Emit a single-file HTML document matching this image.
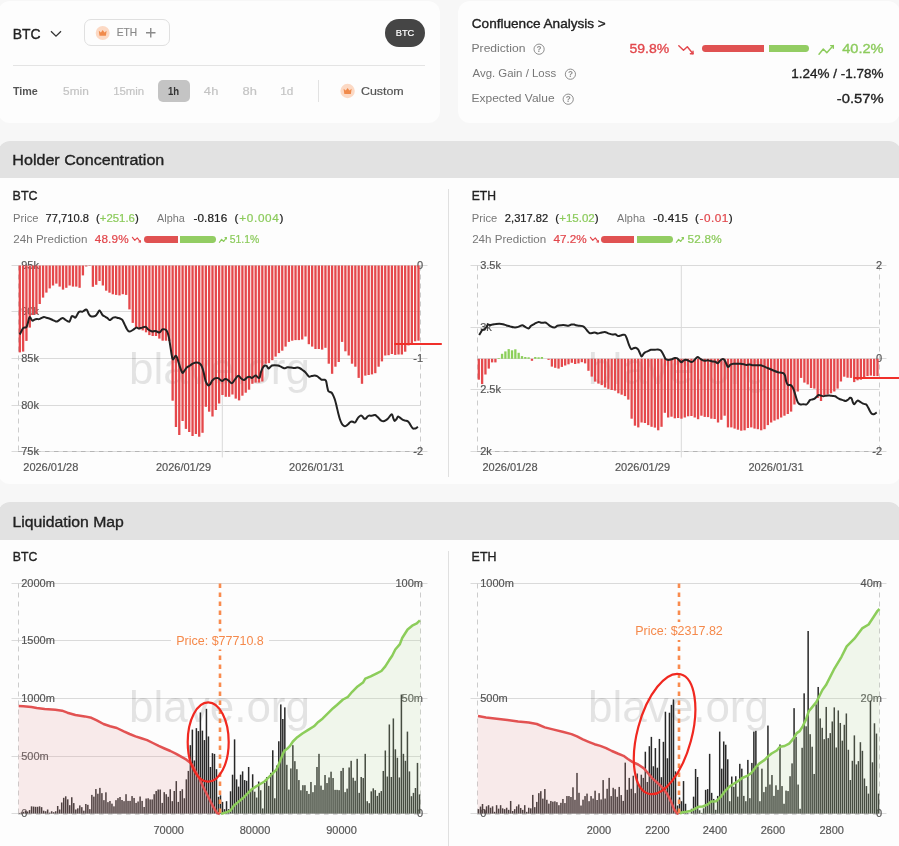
<!DOCTYPE html>
<html><head><meta charset="utf-8"><style>
*{margin:0;padding:0}
html,body{width:899px;height:846px;overflow:hidden;background:#f7f7f7;font-family:"Liberation Sans", sans-serif}
#root{position:absolute;left:0;top:0;width:899px;height:846px;will-change:transform}
</style></head>
<body><div id="root">
<div style="position:absolute;left:-2px;top:1px;width:442px;height:121.7px;background:#fdfdfd;border-radius:12px"></div>
<div style="position:absolute;left:458px;top:1px;width:442px;height:121.7px;background:#fdfdfd;border-radius:12px"></div>
<div style="position:absolute;left:84px;top:19px;width:85.5px;height:26.5px;border:1px solid #e0e0e0;border-radius:7px;box-sizing:border-box"></div>
<div style="position:absolute;left:385px;top:19px;width:40px;height:27.5px;border-radius:14px;background:#454545"></div>
<div style="position:absolute;left:13px;top:64.5px;width:412px;height:1px;background:#e4e4e4"></div>
<div style="position:absolute;left:158px;top:80px;width:32px;height:22px;border-radius:5px;background:#c4c4c4"></div>
<div style="position:absolute;left:318px;top:80px;width:1px;height:22px;background:#e2e2e2"></div>
<div style="position:absolute;left:702px;top:45.2px;width:62px;height:6.8px;background:#e05252;border-radius:3.4px 0 0 3.4px"></div>
<div style="position:absolute;left:768.6px;top:45.2px;width:40.8px;height:6.8px;background:#93cd63;border-radius:0 3.4px 3.4px 0"></div>
<div style="position:absolute;left:-2px;top:141px;width:903px;height:342.7px;background:#fdfdfd;border-radius:12px"></div>
<div style="position:absolute;left:-2px;top:141px;width:903px;height:37px;background:#e2e2e2;border-radius:12px 12px 0 0"></div>
<div style="position:absolute;left:448px;top:189px;width:1px;height:288.2px;background:#e0e0e0"></div>
<div style="position:absolute;left:-2px;top:502px;width:903px;height:360px;background:#fdfdfd;border-radius:12px"></div>
<div style="position:absolute;left:-2px;top:502px;width:903px;height:38px;background:#e2e2e2;border-radius:12px 12px 0 0"></div>
<div style="position:absolute;left:448px;top:551px;width:1px;height:305.5px;background:#e0e0e0"></div>
<div style="position:absolute;left:144.0px;top:236px;width:33.80000000000001px;height:6.8px;background:#e05252;border-radius:3.4px 0 0 3.4px"></div>
<div style="position:absolute;left:179.7px;top:236px;width:36.30000000000001px;height:6.8px;background:#93cd63;border-radius:0 3.4px 3.4px 0"></div>
<div style="position:absolute;left:601.2px;top:236px;width:32.799999999999955px;height:6.8px;background:#e05252;border-radius:3.4px 0 0 3.4px"></div>
<div style="position:absolute;left:636.9px;top:236px;width:36.0px;height:6.8px;background:#93cd63;border-radius:0 3.4px 3.4px 0"></div>
<svg style="position:absolute;left:0;top:0" width="899" height="846" viewBox="0 0 899 846"><line x1="11.5" y1="265.5" x2="427.5" y2="265.5" stroke="#dadada" stroke-width="1"/>
<line x1="11.5" y1="311.5" x2="420.5" y2="311.5" stroke="#dadada" stroke-width="1"/>
<line x1="11.5" y1="358.5" x2="427.5" y2="358.5" stroke="#dadada" stroke-width="1"/>
<line x1="11.5" y1="405.5" x2="420.5" y2="405.5" stroke="#dadada" stroke-width="1"/>
<line x1="11.5" y1="451.5" x2="427.5" y2="451.5" stroke="#dadada" stroke-width="1"/>
<line x1="222.314" y1="265.5" x2="222.314" y2="457.5" stroke="#dadada" stroke-width="1"/>
<line x1="18.5" y1="265.5" x2="18.5" y2="451.5" stroke="#ccc" stroke-width="1" stroke-dasharray="5 4"/>
<line x1="420.5" y1="265.5" x2="420.5" y2="451.5" stroke="#ccc" stroke-width="1" stroke-dasharray="5 4"/>
<line x1="18.0" y1="451.5" x2="420.5" y2="451.5" stroke="#b5b5b5" stroke-width="1" stroke-dasharray="4.5 4.5"/>
<text x="219.5" y="384" font-family="Liberation Sans" font-size="44" fill="#000" fill-opacity="0.1" text-anchor="middle">blave.org</text>
<text x="21.2" y="264.9" font-family="Liberation Sans" font-size="11" fill="#555" stroke="#555" stroke-width="0.18" text-anchor="start" dominant-baseline="central" >95k</text>
<text x="21.2" y="310.9" font-family="Liberation Sans" font-size="11" fill="#555" stroke="#555" stroke-width="0.18" text-anchor="start" dominant-baseline="central" >90k</text>
<text x="21.2" y="357.9" font-family="Liberation Sans" font-size="11" fill="#555" stroke="#555" stroke-width="0.18" text-anchor="start" dominant-baseline="central" >85k</text>
<text x="21.2" y="404.9" font-family="Liberation Sans" font-size="11" fill="#555" stroke="#555" stroke-width="0.18" text-anchor="start" dominant-baseline="central" >80k</text>
<text x="21.2" y="450.9" font-family="Liberation Sans" font-size="11" fill="#555" stroke="#555" stroke-width="0.18" text-anchor="start" dominant-baseline="central" >75k</text>
<text x="423.0" y="264.9" font-family="Liberation Sans" font-size="11" fill="#555" stroke="#555" stroke-width="0.18" text-anchor="end" dominant-baseline="central" >0</text>
<text x="423.0" y="357.9" font-family="Liberation Sans" font-size="11" fill="#555" stroke="#555" stroke-width="0.18" text-anchor="end" dominant-baseline="central" >-1</text>
<text x="423.0" y="450.9" font-family="Liberation Sans" font-size="11" fill="#555" stroke="#555" stroke-width="0.18" text-anchor="end" dominant-baseline="central" >-2</text>
<rect x="18.65" y="265.5" width="2.3" height="86.90" fill="#e5484b"/>
<rect x="21.97" y="265.5" width="2.3" height="86.10" fill="#e5484b"/>
<rect x="25.29" y="265.5" width="2.3" height="75.40" fill="#e5484b"/>
<rect x="28.62" y="265.5" width="2.3" height="62.10" fill="#e5484b"/>
<rect x="31.94" y="265.5" width="2.3" height="49.50" fill="#e5484b"/>
<rect x="35.26" y="265.5" width="2.3" height="48.70" fill="#e5484b"/>
<rect x="38.58" y="265.5" width="2.3" height="38.50" fill="#e5484b"/>
<rect x="41.91" y="265.5" width="2.3" height="32.10" fill="#e5484b"/>
<rect x="45.23" y="265.5" width="2.3" height="27.10" fill="#e5484b"/>
<rect x="48.55" y="265.5" width="2.3" height="22.90" fill="#e5484b"/>
<rect x="51.87" y="265.5" width="2.3" height="20.00" fill="#e5484b"/>
<rect x="55.20" y="265.5" width="2.3" height="18.10" fill="#e5484b"/>
<rect x="58.52" y="265.5" width="2.3" height="21.10" fill="#e5484b"/>
<rect x="61.84" y="265.5" width="2.3" height="24.10" fill="#e5484b"/>
<rect x="65.16" y="265.5" width="2.3" height="22.30" fill="#e5484b"/>
<rect x="68.48" y="265.5" width="2.3" height="20.00" fill="#e5484b"/>
<rect x="71.81" y="265.5" width="2.3" height="21.10" fill="#e5484b"/>
<rect x="75.13" y="265.5" width="2.3" height="21.10" fill="#e5484b"/>
<rect x="78.45" y="265.5" width="2.3" height="22.30" fill="#e5484b"/>
<rect x="81.77" y="265.5" width="2.3" height="9.90" fill="#e5484b"/>
<rect x="85.10" y="265.5" width="2.3" height="1.00" fill="#e5484b"/>
<rect x="88.42" y="265.5" width="2.3" height="0.40" fill="#e5484b"/>
<rect x="91.74" y="265.5" width="2.3" height="21.30" fill="#e5484b"/>
<rect x="95.06" y="265.5" width="2.3" height="19.30" fill="#e5484b"/>
<rect x="98.39" y="265.5" width="2.3" height="15.50" fill="#e5484b"/>
<rect x="101.71" y="265.5" width="2.3" height="20.00" fill="#e5484b"/>
<rect x="105.03" y="265.5" width="2.3" height="25.20" fill="#e5484b"/>
<rect x="108.35" y="265.5" width="2.3" height="27.20" fill="#e5484b"/>
<rect x="111.67" y="265.5" width="2.3" height="28.80" fill="#e5484b"/>
<rect x="115.00" y="265.5" width="2.3" height="29.40" fill="#e5484b"/>
<rect x="118.32" y="265.5" width="2.3" height="29.90" fill="#e5484b"/>
<rect x="121.64" y="265.5" width="2.3" height="28.70" fill="#e5484b"/>
<rect x="124.96" y="265.5" width="2.3" height="29.40" fill="#e5484b"/>
<rect x="128.29" y="265.5" width="2.3" height="43.90" fill="#e5484b"/>
<rect x="131.61" y="265.5" width="2.3" height="57.40" fill="#e5484b"/>
<rect x="134.93" y="265.5" width="2.3" height="62.50" fill="#e5484b"/>
<rect x="138.25" y="265.5" width="2.3" height="63.70" fill="#e5484b"/>
<rect x="141.58" y="265.5" width="2.3" height="64.90" fill="#e5484b"/>
<rect x="144.90" y="265.5" width="2.3" height="66.80" fill="#e5484b"/>
<rect x="148.22" y="265.5" width="2.3" height="69.60" fill="#e5484b"/>
<rect x="151.54" y="265.5" width="2.3" height="70.50" fill="#e5484b"/>
<rect x="154.86" y="265.5" width="2.3" height="70.50" fill="#e5484b"/>
<rect x="158.19" y="265.5" width="2.3" height="73.10" fill="#e5484b"/>
<rect x="161.51" y="265.5" width="2.3" height="75.20" fill="#e5484b"/>
<rect x="164.83" y="265.5" width="2.3" height="75.20" fill="#e5484b"/>
<rect x="168.15" y="265.5" width="2.3" height="75.50" fill="#e5484b"/>
<rect x="171.48" y="265.5" width="2.3" height="135.20" fill="#e5484b"/>
<rect x="174.80" y="265.5" width="2.3" height="161.50" fill="#e5484b"/>
<rect x="178.12" y="265.5" width="2.3" height="169.50" fill="#e5484b"/>
<rect x="181.44" y="265.5" width="2.3" height="155.50" fill="#e5484b"/>
<rect x="184.77" y="265.5" width="2.3" height="163.40" fill="#e5484b"/>
<rect x="188.09" y="265.5" width="2.3" height="166.50" fill="#e5484b"/>
<rect x="191.41" y="265.5" width="2.3" height="170.50" fill="#e5484b"/>
<rect x="194.73" y="265.5" width="2.3" height="168.50" fill="#e5484b"/>
<rect x="198.05" y="265.5" width="2.3" height="171.20" fill="#e5484b"/>
<rect x="201.38" y="265.5" width="2.3" height="167.30" fill="#e5484b"/>
<rect x="204.70" y="265.5" width="2.3" height="141.30" fill="#e5484b"/>
<rect x="208.02" y="265.5" width="2.3" height="146.20" fill="#e5484b"/>
<rect x="211.34" y="265.5" width="2.3" height="151.00" fill="#e5484b"/>
<rect x="214.67" y="265.5" width="2.3" height="144.50" fill="#e5484b"/>
<rect x="217.99" y="265.5" width="2.3" height="138.00" fill="#e5484b"/>
<rect x="221.31" y="265.5" width="2.3" height="129.50" fill="#e5484b"/>
<rect x="224.63" y="265.5" width="2.3" height="131.30" fill="#e5484b"/>
<rect x="227.96" y="265.5" width="2.3" height="131.30" fill="#e5484b"/>
<rect x="231.28" y="265.5" width="2.3" height="129.00" fill="#e5484b"/>
<rect x="234.60" y="265.5" width="2.3" height="133.10" fill="#e5484b"/>
<rect x="237.92" y="265.5" width="2.3" height="134.90" fill="#e5484b"/>
<rect x="241.25" y="265.5" width="2.3" height="130.20" fill="#e5484b"/>
<rect x="244.57" y="265.5" width="2.3" height="127.20" fill="#e5484b"/>
<rect x="247.89" y="265.5" width="2.3" height="124.20" fill="#e5484b"/>
<rect x="251.21" y="265.5" width="2.3" height="118.30" fill="#e5484b"/>
<rect x="254.53" y="265.5" width="2.3" height="117.10" fill="#e5484b"/>
<rect x="257.86" y="265.5" width="2.3" height="117.10" fill="#e5484b"/>
<rect x="261.18" y="265.5" width="2.3" height="116.00" fill="#e5484b"/>
<rect x="264.50" y="265.5" width="2.3" height="98.20" fill="#e5484b"/>
<rect x="267.82" y="265.5" width="2.3" height="97.60" fill="#e5484b"/>
<rect x="271.15" y="265.5" width="2.3" height="94.70" fill="#e5484b"/>
<rect x="274.47" y="265.5" width="2.3" height="91.10" fill="#e5484b"/>
<rect x="277.79" y="265.5" width="2.3" height="87.60" fill="#e5484b"/>
<rect x="281.11" y="265.5" width="2.3" height="85.20" fill="#e5484b"/>
<rect x="284.44" y="265.5" width="2.3" height="81.10" fill="#e5484b"/>
<rect x="287.76" y="265.5" width="2.3" height="76.40" fill="#e5484b"/>
<rect x="291.08" y="265.5" width="2.3" height="75.20" fill="#e5484b"/>
<rect x="294.40" y="265.5" width="2.3" height="74.60" fill="#e5484b"/>
<rect x="297.72" y="265.5" width="2.3" height="74.60" fill="#e5484b"/>
<rect x="301.05" y="265.5" width="2.3" height="74.00" fill="#e5484b"/>
<rect x="304.37" y="265.5" width="2.3" height="71.00" fill="#e5484b"/>
<rect x="307.69" y="265.5" width="2.3" height="78.70" fill="#e5484b"/>
<rect x="311.01" y="265.5" width="2.3" height="81.10" fill="#e5484b"/>
<rect x="314.34" y="265.5" width="2.3" height="83.50" fill="#e5484b"/>
<rect x="317.66" y="265.5" width="2.3" height="83.50" fill="#e5484b"/>
<rect x="320.98" y="265.5" width="2.3" height="84.10" fill="#e5484b"/>
<rect x="324.30" y="265.5" width="2.3" height="82.30" fill="#e5484b"/>
<rect x="327.63" y="265.5" width="2.3" height="98.20" fill="#e5484b"/>
<rect x="330.95" y="265.5" width="2.3" height="108.30" fill="#e5484b"/>
<rect x="334.27" y="265.5" width="2.3" height="101.20" fill="#e5484b"/>
<rect x="337.59" y="265.5" width="2.3" height="96.50" fill="#e5484b"/>
<rect x="340.91" y="265.5" width="2.3" height="76.40" fill="#e5484b"/>
<rect x="344.24" y="265.5" width="2.3" height="85.80" fill="#e5484b"/>
<rect x="347.56" y="265.5" width="2.3" height="90.00" fill="#e5484b"/>
<rect x="350.88" y="265.5" width="2.3" height="98.20" fill="#e5484b"/>
<rect x="354.20" y="265.5" width="2.3" height="101.20" fill="#e5484b"/>
<rect x="357.53" y="265.5" width="2.3" height="112.40" fill="#e5484b"/>
<rect x="360.85" y="265.5" width="2.3" height="118.30" fill="#e5484b"/>
<rect x="364.17" y="265.5" width="2.3" height="110.10" fill="#e5484b"/>
<rect x="367.49" y="265.5" width="2.3" height="109.50" fill="#e5484b"/>
<rect x="370.82" y="265.5" width="2.3" height="108.90" fill="#e5484b"/>
<rect x="374.14" y="265.5" width="2.3" height="107.70" fill="#e5484b"/>
<rect x="377.46" y="265.5" width="2.3" height="101.20" fill="#e5484b"/>
<rect x="380.78" y="265.5" width="2.3" height="95.90" fill="#e5484b"/>
<rect x="384.10" y="265.5" width="2.3" height="90.00" fill="#e5484b"/>
<rect x="387.43" y="265.5" width="2.3" height="89.70" fill="#e5484b"/>
<rect x="390.75" y="265.5" width="2.3" height="88.50" fill="#e5484b"/>
<rect x="394.07" y="265.5" width="2.3" height="89.40" fill="#e5484b"/>
<rect x="397.39" y="265.5" width="2.3" height="89.00" fill="#e5484b"/>
<rect x="400.72" y="265.5" width="2.3" height="89.00" fill="#e5484b"/>
<rect x="404.04" y="265.5" width="2.3" height="86.20" fill="#e5484b"/>
<rect x="407.36" y="265.5" width="2.3" height="79.90" fill="#e5484b"/>
<rect x="410.68" y="265.5" width="2.3" height="78.10" fill="#e5484b"/>
<rect x="414.01" y="265.5" width="2.3" height="75.80" fill="#e5484b"/>
<rect x="417.33" y="265.5" width="2.3" height="75.20" fill="#e5484b"/>
<path d="M19.73 334.47 C20.02 333.88 20.91 332.00 21.50 330.92 C22.09 329.84 22.49 328.60 23.28 327.97 C24.07 327.34 25.54 327.73 26.23 327.14 C26.92 326.55 26.93 325.96 27.42 324.42 C27.91 322.88 28.74 319.10 29.19 317.92 C29.64 316.74 29.75 317.03 30.14 317.33 C30.53 317.62 31.12 319.10 31.55 319.69 C31.98 320.28 32.25 320.87 32.74 320.87 C33.23 320.87 33.82 319.99 34.51 319.69 C35.20 319.39 36.09 319.20 36.88 319.10 C37.67 319.00 38.45 319.30 39.24 319.10 C40.03 318.90 40.82 318.28 41.61 317.92 C42.40 317.56 43.18 317.01 43.97 316.97 C44.76 316.93 45.44 317.42 46.33 317.68 C47.22 317.94 48.20 318.12 49.29 318.51 C50.38 318.90 51.76 319.56 52.84 320.05 C53.92 320.54 55.00 321.27 55.79 321.47 C56.58 321.67 56.78 321.62 57.57 321.23 C58.36 320.84 59.63 319.65 60.52 319.10 C61.41 318.55 62.10 317.82 62.89 317.92 C63.68 318.02 64.46 319.14 65.25 319.69 C66.04 320.24 66.93 320.90 67.62 321.23 C68.31 321.56 68.90 322.06 69.39 321.70 C69.88 321.34 70.19 320.03 70.58 319.10 C70.97 318.18 71.27 316.58 71.76 316.15 C72.25 315.72 72.94 316.25 73.53 316.50 C74.12 316.75 74.72 317.94 75.31 317.68 C75.90 317.42 76.49 315.90 77.08 314.96 C77.67 314.01 78.26 312.60 78.85 312.01 C79.44 311.42 80.04 311.46 80.63 311.42 C81.22 311.38 81.81 311.91 82.40 311.77 C82.99 311.63 83.58 310.98 84.17 310.59 C84.76 310.20 85.46 309.47 85.95 309.41 C86.44 309.35 86.64 309.45 87.13 310.24 C87.62 311.03 88.31 313.15 88.90 314.14 C89.49 315.12 89.99 315.76 90.68 316.15 C91.37 316.54 92.25 316.56 93.04 316.50 C93.83 316.44 94.72 316.24 95.41 315.79 C96.10 315.34 96.55 314.65 97.18 313.78 C97.81 312.91 98.60 310.88 99.19 310.59 C99.78 310.29 100.18 311.28 100.73 312.01 C101.28 312.74 101.81 314.21 102.50 314.96 C103.19 315.71 104.08 316.01 104.87 316.50 C105.66 316.99 106.44 317.33 107.23 317.92 C108.02 318.51 108.91 319.85 109.60 320.05 C110.29 320.25 110.78 319.50 111.37 319.10 C111.96 318.71 112.45 317.98 113.14 317.68 C113.83 317.38 114.72 317.29 115.51 317.33 C116.30 317.37 117.12 317.72 117.87 317.92 C118.62 318.12 119.26 318.18 120.00 318.51 C120.74 318.84 121.52 318.88 122.30 319.90 C123.08 320.91 123.92 323.05 124.70 324.60 C125.48 326.15 126.23 328.03 127.00 329.20 C127.77 330.37 128.33 331.47 129.30 331.60 C130.27 331.73 131.62 330.67 132.80 330.00 C133.98 329.33 135.42 327.85 136.40 327.60 C137.38 327.35 137.73 328.50 138.70 328.50 C139.67 328.50 141.03 327.87 142.20 327.60 C143.37 327.33 144.73 326.63 145.70 326.90 C146.67 327.17 147.28 328.58 148.00 329.20 C148.72 329.82 149.27 330.22 150.00 330.60 C150.73 330.98 151.52 331.45 152.40 331.50 C153.28 331.55 154.22 330.75 155.30 330.90 C156.38 331.05 158.05 332.25 158.90 332.40 C159.75 332.55 159.82 332.30 160.40 331.80 C160.98 331.30 161.67 329.80 162.40 329.40 C163.13 329.00 164.10 329.20 164.80 329.40 C165.50 329.60 166.10 329.95 166.60 330.60 C167.10 331.25 167.42 332.17 167.80 333.30 C168.18 334.43 168.57 335.82 168.90 337.40 C169.23 338.98 169.50 340.92 169.80 342.80 C170.10 344.68 170.40 346.73 170.70 348.70 C171.00 350.67 171.30 352.93 171.60 354.60 C171.90 356.27 172.20 357.92 172.50 358.70 C172.80 359.48 173.05 359.55 173.40 359.30 C173.75 359.05 174.22 357.78 174.60 357.20 C174.98 356.62 175.32 355.80 175.70 355.80 C176.08 355.80 176.45 356.22 176.90 357.20 C177.35 358.18 177.85 359.97 178.40 361.70 C178.95 363.43 179.60 365.83 180.20 367.60 C180.80 369.37 181.52 371.47 182.00 372.30 C182.48 373.13 182.62 372.98 183.10 372.60 C183.58 372.22 184.30 370.83 184.90 370.00 C185.50 369.17 186.10 368.20 186.70 367.60 C187.30 367.00 187.93 366.75 188.50 366.40 C189.07 366.05 189.40 365.97 190.10 365.50 C190.80 365.03 191.62 364.10 192.70 363.60 C193.78 363.10 195.40 362.50 196.60 362.50 C197.80 362.50 199.03 362.95 199.90 363.60 C200.77 364.25 201.15 364.85 201.80 366.40 C202.45 367.95 203.15 370.40 203.80 372.90 C204.45 375.40 204.95 379.33 205.70 381.40 C206.45 383.47 207.53 384.87 208.30 385.30 C209.07 385.73 209.65 384.77 210.30 384.00 C210.95 383.23 211.45 381.63 212.20 380.70 C212.95 379.77 213.82 378.83 214.80 378.40 C215.78 377.97 217.12 377.82 218.10 378.10 C219.08 378.38 219.98 379.63 220.70 380.10 C221.42 380.57 221.63 381.07 222.40 380.90 C223.17 380.73 224.32 379.20 225.30 379.10 C226.28 379.00 227.22 379.62 228.30 380.30 C229.38 380.98 230.72 383.30 231.80 383.20 C232.88 383.10 233.72 380.93 234.80 379.70 C235.88 378.47 237.22 376.00 238.30 375.80 C239.38 375.60 240.32 377.80 241.30 378.50 C242.28 379.20 243.22 380.20 244.20 380.00 C245.18 379.80 246.30 377.85 247.20 377.30 C248.10 376.75 248.82 376.60 249.60 376.70 C250.38 376.80 250.92 378.08 251.90 377.90 C252.88 377.72 254.52 375.70 255.50 375.60 C256.48 375.50 257.12 376.95 257.80 377.30 C258.48 377.65 259.10 378.48 259.60 377.70 C260.10 376.92 260.30 374.23 260.80 372.60 C261.30 370.97 261.92 369.08 262.60 367.90 C263.28 366.72 264.22 365.80 264.90 365.50 C265.58 365.20 266.10 365.60 266.70 366.10 C267.30 366.60 267.90 368.35 268.50 368.50 C269.10 368.65 269.72 367.50 270.30 367.00 C270.88 366.50 271.32 365.80 272.00 365.50 C272.68 365.20 273.42 365.20 274.40 365.20 C275.38 365.20 276.82 365.25 277.90 365.50 C278.98 365.75 280.00 366.30 280.90 366.70 C281.80 367.10 282.62 367.65 283.30 367.90 C283.98 368.15 284.32 368.30 285.00 368.20 C285.68 368.10 286.42 367.42 287.40 367.30 C288.38 367.18 289.72 367.40 290.90 367.50 C292.08 367.60 293.40 367.90 294.50 367.90 C295.60 367.90 296.52 367.40 297.50 367.50 C298.48 367.60 299.52 368.05 300.40 368.50 C301.28 368.95 302.02 369.62 302.80 370.20 C303.58 370.78 304.32 371.20 305.10 372.00 C305.88 372.80 306.80 374.22 307.50 375.00 C308.20 375.78 308.62 376.52 309.30 376.70 C309.98 376.88 310.72 376.28 311.60 376.10 C312.48 375.92 313.70 375.60 314.60 375.60 C315.50 375.60 316.22 375.72 317.00 376.10 C317.78 376.48 318.52 377.30 319.30 377.90 C320.08 378.50 320.82 379.40 321.70 379.70 C322.58 380.00 323.87 379.47 324.60 379.70 C325.33 379.93 325.67 379.93 326.10 381.10 C326.53 382.27 326.83 385.03 327.20 386.70 C327.57 388.37 327.83 390.22 328.30 391.10 C328.77 391.98 329.43 391.72 330.00 392.00 C330.57 392.28 331.15 392.20 331.70 392.80 C332.25 393.40 332.75 394.40 333.30 395.60 C333.85 396.80 334.43 398.15 335.00 400.00 C335.57 401.85 336.15 404.47 336.70 406.70 C337.25 408.93 337.75 411.27 338.30 413.40 C338.85 415.53 339.43 417.83 340.00 419.50 C340.57 421.17 341.13 422.42 341.70 423.40 C342.27 424.38 342.85 424.93 343.40 425.40 C343.95 425.87 344.45 426.20 345.00 426.20 C345.55 426.20 346.13 425.78 346.70 425.40 C347.27 425.02 347.85 424.42 348.40 423.90 C348.95 423.38 349.45 422.72 350.00 422.30 C350.55 421.88 351.13 421.45 351.70 421.40 C352.27 421.35 352.85 421.82 353.40 422.00 C353.95 422.18 354.45 422.83 355.00 422.50 C355.55 422.17 356.13 420.87 356.70 420.00 C357.27 419.13 357.75 418.03 358.40 417.30 C359.05 416.57 359.95 415.78 360.60 415.60 C361.25 415.42 361.75 415.73 362.30 416.20 C362.85 416.67 363.35 417.98 363.90 418.40 C364.45 418.82 365.03 418.98 365.60 418.70 C366.17 418.42 366.75 417.22 367.30 416.70 C367.85 416.18 368.25 415.75 368.90 415.60 C369.55 415.45 370.55 415.83 371.20 415.80 C371.85 415.77 372.15 415.53 372.80 415.40 C373.45 415.27 374.45 414.87 375.10 415.00 C375.75 415.13 376.15 415.73 376.70 416.20 C377.25 416.67 377.83 417.20 378.40 417.80 C378.97 418.40 379.55 419.28 380.10 419.80 C380.65 420.32 381.15 420.67 381.70 420.90 C382.25 421.13 382.75 421.30 383.40 421.20 C384.05 421.10 384.87 420.72 385.60 420.30 C386.33 419.88 387.15 419.30 387.80 418.70 C388.45 418.10 388.93 417.40 389.50 416.70 C390.07 416.00 390.73 414.78 391.20 414.50 C391.67 414.22 391.93 414.35 392.30 415.00 C392.67 415.65 393.03 417.42 393.40 418.40 C393.77 419.38 394.03 420.72 394.50 420.90 C394.97 421.08 395.63 420.20 396.20 419.50 C396.77 418.80 397.35 417.07 397.90 416.70 C398.45 416.33 398.95 416.97 399.50 417.30 C400.05 417.63 400.63 418.28 401.20 418.70 C401.77 419.12 402.25 419.48 402.90 419.80 C403.55 420.12 404.27 420.33 405.10 420.60 C405.93 420.87 407.17 420.93 407.90 421.40 C408.63 421.87 408.95 422.60 409.50 423.40 C410.05 424.20 410.63 425.37 411.20 426.20 C411.77 427.03 412.35 428.00 412.90 428.40 C413.45 428.80 413.95 428.65 414.50 428.60 C415.05 428.55 415.63 428.42 416.20 428.10 C416.77 427.78 417.62 426.93 417.90 426.70" fill="none" stroke="#222" stroke-width="2" stroke-linejoin="round"/>
<text x="50.8" y="466.8" font-family="Liberation Sans" font-size="11" fill="#555" stroke="#555" stroke-width="0.18" text-anchor="middle" dominant-baseline="central" >2026/01/28</text>
<text x="183.5" y="466.8" font-family="Liberation Sans" font-size="11" fill="#555" stroke="#555" stroke-width="0.18" text-anchor="middle" dominant-baseline="central" >2026/01/29</text>
<text x="316.6" y="466.8" font-family="Liberation Sans" font-size="11" fill="#555" stroke="#555" stroke-width="0.18" text-anchor="middle" dominant-baseline="central" >2026/01/31</text>
<line x1="394.3" y1="344" x2="441.8" y2="344" stroke="#f0302a" stroke-width="2"/>
<line x1="470.5" y1="265.5" x2="886.5" y2="265.5" stroke="#dadada" stroke-width="1"/>
<line x1="470.5" y1="327.5" x2="879.5" y2="327.5" stroke="#dadada" stroke-width="1"/>
<line x1="470.5" y1="389.5" x2="879.5" y2="389.5" stroke="#dadada" stroke-width="1"/>
<line x1="470.5" y1="451.5" x2="886.5" y2="451.5" stroke="#dadada" stroke-width="1"/>
<line x1="477.5" y1="358.5" x2="886.5" y2="358.5" stroke="#dadada" stroke-width="1"/>
<line x1="681.314" y1="265.5" x2="681.314" y2="457.5" stroke="#dadada" stroke-width="1"/>
<line x1="477.5" y1="265.5" x2="477.5" y2="451.5" stroke="#ccc" stroke-width="1" stroke-dasharray="5 4"/>
<line x1="879.5" y1="265.5" x2="879.5" y2="451.5" stroke="#ccc" stroke-width="1" stroke-dasharray="5 4"/>
<line x1="477.0" y1="451.5" x2="879.5" y2="451.5" stroke="#b5b5b5" stroke-width="1" stroke-dasharray="4.5 4.5"/>
<text x="678.5" y="384" font-family="Liberation Sans" font-size="44" fill="#000" fill-opacity="0.1" text-anchor="middle">blave.org</text>
<text x="480.2" y="264.9" font-family="Liberation Sans" font-size="11" fill="#555" stroke="#555" stroke-width="0.18" text-anchor="start" dominant-baseline="central" >3.5k</text>
<text x="480.2" y="326.9" font-family="Liberation Sans" font-size="11" fill="#555" stroke="#555" stroke-width="0.18" text-anchor="start" dominant-baseline="central" >3k</text>
<text x="480.2" y="388.9" font-family="Liberation Sans" font-size="11" fill="#555" stroke="#555" stroke-width="0.18" text-anchor="start" dominant-baseline="central" >2.5k</text>
<text x="480.2" y="450.9" font-family="Liberation Sans" font-size="11" fill="#555" stroke="#555" stroke-width="0.18" text-anchor="start" dominant-baseline="central" >2k</text>
<text x="882.0" y="264.9" font-family="Liberation Sans" font-size="11" fill="#555" stroke="#555" stroke-width="0.18" text-anchor="end" dominant-baseline="central" >2</text>
<text x="882.0" y="358.2" font-family="Liberation Sans" font-size="11" fill="#555" stroke="#555" stroke-width="0.18" text-anchor="end" dominant-baseline="central" >0</text>
<text x="882.0" y="450.9" font-family="Liberation Sans" font-size="11" fill="#555" stroke="#555" stroke-width="0.18" text-anchor="end" dominant-baseline="central" >-2</text>
<rect x="477.65" y="358.8" width="2.3" height="20.90" fill="#e5484b"/>
<rect x="480.97" y="358.8" width="2.3" height="25.30" fill="#e5484b"/>
<rect x="484.29" y="358.8" width="2.3" height="15.70" fill="#e5484b"/>
<rect x="487.62" y="358.8" width="2.3" height="9.80" fill="#e5484b"/>
<rect x="490.94" y="358.8" width="2.3" height="3.60" fill="#e5484b"/>
<rect x="494.26" y="358.8" width="2.3" height="3.60" fill="#e5484b"/>
<rect x="497.58" y="358.10" width="2.3" height="0.70" fill="#8ccf5a"/>
<rect x="500.91" y="353.80" width="2.3" height="5.00" fill="#8ccf5a"/>
<rect x="504.23" y="351.40" width="2.3" height="7.40" fill="#8ccf5a"/>
<rect x="507.55" y="349.10" width="2.3" height="9.70" fill="#8ccf5a"/>
<rect x="510.87" y="350.30" width="2.3" height="8.50" fill="#8ccf5a"/>
<rect x="514.20" y="349.30" width="2.3" height="9.50" fill="#8ccf5a"/>
<rect x="517.52" y="352.80" width="2.3" height="6.00" fill="#8ccf5a"/>
<rect x="520.84" y="356.10" width="2.3" height="2.70" fill="#8ccf5a"/>
<rect x="524.16" y="357.00" width="2.3" height="1.80" fill="#8ccf5a"/>
<rect x="527.48" y="357.30" width="2.3" height="1.50" fill="#8ccf5a"/>
<rect x="530.81" y="358.8" width="2.3" height="2.00" fill="#e5484b"/>
<rect x="534.13" y="357.00" width="2.3" height="1.80" fill="#8ccf5a"/>
<rect x="537.45" y="357.30" width="2.3" height="1.50" fill="#8ccf5a"/>
<rect x="540.77" y="357.00" width="2.3" height="1.80" fill="#8ccf5a"/>
<rect x="547.42" y="358.8" width="2.3" height="1.10" fill="#e5484b"/>
<rect x="550.74" y="358.8" width="2.3" height="7.80" fill="#e5484b"/>
<rect x="554.06" y="358.8" width="2.3" height="9.00" fill="#e5484b"/>
<rect x="557.39" y="358.8" width="2.3" height="9.80" fill="#e5484b"/>
<rect x="560.71" y="358.8" width="2.3" height="8.10" fill="#e5484b"/>
<rect x="564.03" y="358.8" width="2.3" height="6.70" fill="#e5484b"/>
<rect x="567.35" y="358.8" width="2.3" height="5.50" fill="#e5484b"/>
<rect x="570.67" y="358.8" width="2.3" height="4.00" fill="#e5484b"/>
<rect x="574.00" y="358.8" width="2.3" height="5.20" fill="#e5484b"/>
<rect x="577.32" y="358.8" width="2.3" height="4.60" fill="#e5484b"/>
<rect x="580.64" y="358.8" width="2.3" height="3.40" fill="#e5484b"/>
<rect x="583.96" y="358.8" width="2.3" height="4.60" fill="#e5484b"/>
<rect x="587.29" y="358.8" width="2.3" height="12.00" fill="#e5484b"/>
<rect x="590.61" y="358.8" width="2.3" height="17.80" fill="#e5484b"/>
<rect x="593.93" y="358.8" width="2.3" height="22.80" fill="#e5484b"/>
<rect x="597.25" y="358.8" width="2.3" height="24.80" fill="#e5484b"/>
<rect x="600.58" y="358.8" width="2.3" height="26.30" fill="#e5484b"/>
<rect x="603.90" y="358.8" width="2.3" height="28.70" fill="#e5484b"/>
<rect x="607.22" y="358.8" width="2.3" height="30.10" fill="#e5484b"/>
<rect x="610.54" y="358.8" width="2.3" height="31.20" fill="#e5484b"/>
<rect x="613.86" y="358.8" width="2.3" height="31.80" fill="#e5484b"/>
<rect x="617.19" y="358.8" width="2.3" height="34.50" fill="#e5484b"/>
<rect x="620.51" y="358.8" width="2.3" height="35.90" fill="#e5484b"/>
<rect x="623.83" y="358.8" width="2.3" height="37.30" fill="#e5484b"/>
<rect x="627.15" y="358.8" width="2.3" height="40.80" fill="#e5484b"/>
<rect x="630.48" y="358.8" width="2.3" height="59.90" fill="#e5484b"/>
<rect x="633.80" y="358.8" width="2.3" height="66.90" fill="#e5484b"/>
<rect x="637.12" y="358.8" width="2.3" height="68.60" fill="#e5484b"/>
<rect x="640.44" y="358.8" width="2.3" height="63.70" fill="#e5484b"/>
<rect x="643.77" y="358.8" width="2.3" height="64.20" fill="#e5484b"/>
<rect x="647.09" y="358.8" width="2.3" height="66.30" fill="#e5484b"/>
<rect x="650.41" y="358.8" width="2.3" height="68.00" fill="#e5484b"/>
<rect x="653.73" y="358.8" width="2.3" height="68.80" fill="#e5484b"/>
<rect x="657.05" y="358.8" width="2.3" height="71.50" fill="#e5484b"/>
<rect x="660.38" y="358.8" width="2.3" height="68.00" fill="#e5484b"/>
<rect x="663.70" y="358.8" width="2.3" height="54.00" fill="#e5484b"/>
<rect x="667.02" y="358.8" width="2.3" height="58.70" fill="#e5484b"/>
<rect x="670.34" y="358.8" width="2.3" height="57.90" fill="#e5484b"/>
<rect x="673.67" y="358.8" width="2.3" height="59.50" fill="#e5484b"/>
<rect x="676.99" y="358.8" width="2.3" height="59.20" fill="#e5484b"/>
<rect x="680.31" y="358.8" width="2.3" height="59.90" fill="#e5484b"/>
<rect x="683.63" y="358.8" width="2.3" height="58.70" fill="#e5484b"/>
<rect x="686.96" y="358.8" width="2.3" height="57.50" fill="#e5484b"/>
<rect x="690.28" y="358.8" width="2.3" height="57.20" fill="#e5484b"/>
<rect x="693.60" y="358.8" width="2.3" height="58.70" fill="#e5484b"/>
<rect x="696.92" y="358.8" width="2.3" height="60.40" fill="#e5484b"/>
<rect x="700.25" y="358.8" width="2.3" height="56.90" fill="#e5484b"/>
<rect x="703.57" y="358.8" width="2.3" height="58.10" fill="#e5484b"/>
<rect x="706.89" y="358.8" width="2.3" height="58.30" fill="#e5484b"/>
<rect x="710.21" y="358.8" width="2.3" height="59.90" fill="#e5484b"/>
<rect x="713.53" y="358.8" width="2.3" height="60.20" fill="#e5484b"/>
<rect x="716.86" y="358.8" width="2.3" height="63.70" fill="#e5484b"/>
<rect x="720.18" y="358.8" width="2.3" height="61.00" fill="#e5484b"/>
<rect x="723.50" y="358.8" width="2.3" height="56.90" fill="#e5484b"/>
<rect x="726.82" y="358.8" width="2.3" height="68.60" fill="#e5484b"/>
<rect x="730.15" y="358.8" width="2.3" height="68.60" fill="#e5484b"/>
<rect x="733.47" y="358.8" width="2.3" height="69.80" fill="#e5484b"/>
<rect x="736.79" y="358.8" width="2.3" height="70.90" fill="#e5484b"/>
<rect x="740.11" y="358.8" width="2.3" height="71.90" fill="#e5484b"/>
<rect x="743.44" y="358.8" width="2.3" height="71.50" fill="#e5484b"/>
<rect x="746.76" y="358.8" width="2.3" height="69.20" fill="#e5484b"/>
<rect x="750.08" y="358.8" width="2.3" height="68.60" fill="#e5484b"/>
<rect x="753.40" y="358.8" width="2.3" height="69.80" fill="#e5484b"/>
<rect x="756.72" y="358.8" width="2.3" height="70.40" fill="#e5484b"/>
<rect x="760.05" y="358.8" width="2.3" height="71.50" fill="#e5484b"/>
<rect x="763.37" y="358.8" width="2.3" height="70.40" fill="#e5484b"/>
<rect x="766.69" y="358.8" width="2.3" height="66.30" fill="#e5484b"/>
<rect x="770.01" y="358.8" width="2.3" height="63.70" fill="#e5484b"/>
<rect x="773.34" y="358.8" width="2.3" height="61.80" fill="#e5484b"/>
<rect x="776.66" y="358.8" width="2.3" height="60.50" fill="#e5484b"/>
<rect x="779.98" y="358.8" width="2.3" height="58.70" fill="#e5484b"/>
<rect x="783.30" y="358.8" width="2.3" height="56.90" fill="#e5484b"/>
<rect x="786.63" y="358.8" width="2.3" height="55.20" fill="#e5484b"/>
<rect x="789.95" y="358.8" width="2.3" height="52.80" fill="#e5484b"/>
<rect x="793.27" y="358.8" width="2.3" height="45.70" fill="#e5484b"/>
<rect x="796.59" y="358.8" width="2.3" height="32.70" fill="#e5484b"/>
<rect x="799.91" y="358.8" width="2.3" height="19.10" fill="#e5484b"/>
<rect x="803.24" y="358.8" width="2.3" height="23.80" fill="#e5484b"/>
<rect x="806.56" y="358.8" width="2.3" height="25.60" fill="#e5484b"/>
<rect x="809.88" y="358.8" width="2.3" height="29.20" fill="#e5484b"/>
<rect x="813.20" y="358.8" width="2.3" height="29.80" fill="#e5484b"/>
<rect x="816.53" y="358.8" width="2.3" height="39.20" fill="#e5484b"/>
<rect x="819.85" y="358.8" width="2.3" height="42.20" fill="#e5484b"/>
<rect x="823.17" y="358.8" width="2.3" height="36.30" fill="#e5484b"/>
<rect x="826.49" y="358.8" width="2.3" height="35.70" fill="#e5484b"/>
<rect x="829.82" y="358.8" width="2.3" height="34.50" fill="#e5484b"/>
<rect x="833.14" y="358.8" width="2.3" height="32.70" fill="#e5484b"/>
<rect x="836.46" y="358.8" width="2.3" height="29.80" fill="#e5484b"/>
<rect x="839.78" y="358.8" width="2.3" height="22.70" fill="#e5484b"/>
<rect x="843.10" y="358.8" width="2.3" height="17.90" fill="#e5484b"/>
<rect x="846.43" y="358.8" width="2.3" height="18.90" fill="#e5484b"/>
<rect x="849.75" y="358.8" width="2.3" height="19.10" fill="#e5484b"/>
<rect x="853.07" y="358.8" width="2.3" height="23.30" fill="#e5484b"/>
<rect x="856.39" y="358.8" width="2.3" height="21.50" fill="#e5484b"/>
<rect x="859.72" y="358.8" width="2.3" height="20.90" fill="#e5484b"/>
<rect x="863.04" y="358.8" width="2.3" height="20.10" fill="#e5484b"/>
<rect x="866.36" y="358.8" width="2.3" height="17.30" fill="#e5484b"/>
<rect x="869.68" y="358.8" width="2.3" height="16.80" fill="#e5484b"/>
<rect x="873.01" y="358.8" width="2.3" height="17.30" fill="#e5484b"/>
<rect x="876.33" y="358.8" width="2.3" height="17.30" fill="#e5484b"/>
<path d="M479.09 335.11 C479.38 334.62 480.26 333.06 480.84 332.19 C481.42 331.31 482.01 330.35 482.59 329.86 C483.17 329.37 483.75 329.66 484.34 329.27 C484.92 328.88 485.51 328.30 486.10 327.52 C486.69 326.74 487.27 325.03 487.85 324.60 C488.43 324.17 488.82 324.95 489.60 324.95 C490.38 324.95 491.45 324.75 492.52 324.60 C493.59 324.45 494.85 324.16 496.02 324.02 C497.19 323.88 498.36 323.74 499.53 323.78 C500.70 323.82 501.86 323.98 503.03 324.25 C504.20 324.52 505.36 325.07 506.53 325.42 C507.70 325.77 508.87 326.04 510.04 326.35 C511.21 326.66 512.47 327.13 513.54 327.29 C514.61 327.45 515.49 327.45 516.46 327.29 C517.43 327.13 518.41 326.70 519.38 326.35 C520.35 326.00 521.33 325.08 522.30 325.18 C523.27 325.28 524.19 326.39 525.22 326.94 C526.25 327.49 527.52 328.64 528.49 328.45 C529.46 328.25 530.05 326.55 531.06 325.77 C532.07 324.99 533.31 324.42 534.57 323.78 C535.84 323.14 537.48 322.06 538.65 321.91 C539.82 321.76 540.50 322.73 541.57 322.85 C542.64 322.97 544.11 322.46 545.08 322.61 C546.05 322.76 546.53 323.19 547.41 323.78 C548.28 324.36 549.16 325.50 550.33 326.12 C551.50 326.74 553.25 327.58 554.42 327.52 C555.59 327.46 556.17 326.16 557.34 325.77 C558.51 325.38 560.16 325.28 561.43 325.18 C562.69 325.08 563.76 325.08 564.93 325.18 C566.10 325.28 567.37 325.87 568.44 325.77 C569.51 325.67 570.39 324.80 571.36 324.60 C572.33 324.41 573.67 324.55 574.28 324.60 C574.89 324.66 574.51 324.78 575.00 324.93 C575.49 325.08 576.62 325.39 577.20 325.53 C577.78 325.67 577.60 325.65 578.50 325.75 C579.40 325.85 581.52 325.75 582.59 326.10 C583.66 326.45 584.15 327.07 584.93 327.85 C585.71 328.63 586.48 329.89 587.26 330.77 C588.04 331.64 588.82 332.71 589.60 333.10 C590.38 333.49 591.06 333.20 591.94 333.10 C592.82 333.00 593.89 332.46 594.86 332.52 C595.83 332.58 596.81 333.41 597.78 333.45 C598.75 333.49 599.52 333.00 600.69 332.75 C601.86 332.50 603.61 331.88 604.78 331.94 C605.95 332.00 606.82 332.77 607.70 333.10 C608.58 333.43 609.26 333.67 610.04 333.92 C610.82 334.17 611.50 334.56 612.37 334.62 C613.25 334.68 614.32 334.04 615.29 334.27 C616.26 334.50 617.33 335.82 618.21 336.02 C619.09 336.21 619.77 335.63 620.55 335.44 C621.33 335.25 622.11 334.92 622.89 334.86 C623.67 334.80 624.54 334.41 625.22 335.09 C625.90 335.77 626.38 337.42 626.97 338.94 C627.56 340.46 628.05 342.51 628.73 344.20 C629.41 345.89 630.28 348.42 631.06 349.10 C631.84 349.78 632.62 348.52 633.40 348.29 C634.18 348.06 634.95 347.51 635.73 347.70 C636.51 347.89 637.39 348.57 638.07 349.45 C638.75 350.33 639.24 351.79 639.82 352.96 C640.40 354.13 640.99 356.26 641.57 356.46 C642.16 356.65 642.75 354.81 643.33 354.13 C643.92 353.45 644.30 352.86 645.08 352.37 C645.86 351.88 647.03 351.64 648.00 351.21 C648.97 350.78 649.85 350.04 650.92 349.80 C651.99 349.56 653.25 349.86 654.42 349.80 C655.59 349.74 656.85 349.31 657.92 349.45 C658.99 349.59 659.96 349.84 660.84 350.62 C661.72 351.40 662.40 352.77 663.18 354.13 C663.96 355.49 664.64 357.83 665.52 358.80 C666.40 359.77 667.47 359.87 668.44 359.97 C669.41 360.07 670.29 359.71 671.36 359.38 C672.43 359.05 673.86 358.17 674.86 357.98 C675.86 357.80 676.54 357.79 677.34 358.27 C678.14 358.75 678.99 360.18 679.67 360.84 C680.35 361.50 680.74 362.34 681.42 362.24 C682.10 362.14 682.98 360.69 683.76 360.26 C684.54 359.83 685.32 359.61 686.10 359.67 C686.88 359.73 687.55 360.22 688.43 360.61 C689.30 361.00 690.47 361.97 691.35 362.01 C692.23 362.05 692.91 361.46 693.69 360.84 C694.47 360.22 695.34 358.89 696.02 358.27 C696.70 357.65 697.19 357.10 697.78 357.10 C698.37 357.10 698.85 357.80 699.53 358.27 C700.21 358.74 700.99 359.48 701.86 359.91 C702.74 360.34 703.81 360.78 704.78 360.84 C705.75 360.90 706.82 360.26 707.70 360.26 C708.58 360.26 709.26 360.65 710.04 360.84 C710.82 361.03 711.50 361.26 712.37 361.42 C713.25 361.58 714.41 361.48 715.29 361.77 C716.17 362.06 716.85 363.34 717.63 363.18 C718.41 363.02 719.19 361.52 719.97 360.84 C720.75 360.16 721.62 359.32 722.30 359.09 C722.98 358.86 723.46 358.86 724.05 359.44 C724.63 360.02 725.22 361.38 725.81 362.59 C726.39 363.80 727.07 366.00 727.56 366.68 C728.05 367.36 728.24 367.03 728.73 366.68 C729.22 366.33 729.70 365.07 730.48 364.58 C731.26 364.09 732.33 363.90 733.40 363.76 C734.47 363.62 735.73 363.76 736.90 363.76 C738.07 363.76 739.24 363.66 740.41 363.76 C741.58 363.86 742.94 364.14 743.91 364.34 C744.88 364.53 745.28 364.89 746.25 364.93 C747.22 364.97 748.58 364.52 749.75 364.58 C750.92 364.64 752.08 365.16 753.25 365.28 C754.42 365.40 755.59 365.28 756.76 365.28 C757.93 365.28 759.19 365.14 760.26 365.28 C761.33 365.42 760.33 364.98 763.18 366.10 C766.03 367.22 774.50 370.93 777.36 372.01 C780.22 373.09 779.33 372.40 780.32 372.60 C781.31 372.80 782.49 372.70 783.28 373.19 C784.07 373.68 784.56 374.18 785.05 375.56 C785.54 376.94 785.74 379.90 786.23 381.47 C786.72 383.05 787.32 384.42 788.01 385.01 C788.70 385.60 789.58 384.62 790.37 385.01 C791.16 385.40 792.05 386.20 792.74 387.38 C793.43 388.56 793.92 390.33 794.51 392.10 C795.10 393.87 795.69 396.24 796.28 398.01 C796.87 399.78 797.37 401.66 798.06 402.74 C798.75 403.82 799.53 404.28 800.42 404.52 C801.31 404.76 802.39 404.16 803.38 404.16 C804.37 404.16 805.54 404.76 806.33 404.52 C807.12 404.28 807.52 403.47 808.11 402.74 C808.70 402.01 809.19 400.69 809.88 400.14 C810.57 399.59 811.46 399.69 812.25 399.43 C813.04 399.18 813.82 399.14 814.61 398.61 C815.40 398.08 816.29 396.83 816.98 396.24 C817.67 395.65 818.06 395.16 818.75 395.06 C819.44 394.96 820.33 395.45 821.12 395.65 C821.91 395.85 822.69 396.24 823.48 396.24 C824.27 396.24 825.06 395.79 825.85 395.65 C826.64 395.51 827.42 395.41 828.21 395.41 C829.00 395.41 829.79 395.57 830.58 395.65 C831.37 395.73 832.15 395.79 832.94 395.89 C833.73 395.99 834.52 395.89 835.31 396.24 C836.10 396.59 836.88 397.52 837.67 398.01 C838.46 398.50 839.14 398.84 840.03 399.20 C840.92 399.56 842.00 399.84 842.99 400.14 C843.98 400.44 845.06 401.09 845.95 400.97 C846.84 400.85 847.62 399.96 848.31 399.43 C849.00 398.90 849.54 397.92 850.09 397.78 C850.64 397.64 851.13 397.78 851.62 398.61 C852.11 399.44 852.61 401.81 853.04 402.74 C853.47 403.67 853.73 404.26 854.22 404.16 C854.71 404.06 855.41 402.74 856.00 402.15 C856.59 401.56 857.08 400.67 857.77 400.61 C858.46 400.55 859.35 401.35 860.14 401.80 C860.93 402.25 861.71 402.94 862.50 403.33 C863.29 403.72 864.18 403.90 864.87 404.16 C865.56 404.42 866.05 404.22 866.64 404.87 C867.23 405.52 867.82 406.94 868.41 408.06 C869.00 409.18 869.60 410.62 870.19 411.61 C870.78 412.60 871.27 413.58 871.96 413.97 C872.65 414.36 873.54 414.23 874.33 413.97 C875.12 413.71 876.30 412.69 876.69 412.43" fill="none" stroke="#222" stroke-width="2" stroke-linejoin="round"/>
<text x="510" y="466.8" font-family="Liberation Sans" font-size="11" fill="#555" stroke="#555" stroke-width="0.18" text-anchor="middle" dominant-baseline="central" >2026/01/28</text>
<text x="642.5" y="466.8" font-family="Liberation Sans" font-size="11" fill="#555" stroke="#555" stroke-width="0.18" text-anchor="middle" dominant-baseline="central" >2026/01/29</text>
<text x="776" y="466.8" font-family="Liberation Sans" font-size="11" fill="#555" stroke="#555" stroke-width="0.18" text-anchor="middle" dominant-baseline="central" >2026/01/31</text>
<line x1="853.4" y1="378" x2="900.9" y2="378" stroke="#f0302a" stroke-width="2"/>
<line x1="11.5" y1="583.5" x2="427.5" y2="583.5" stroke="#dadada" stroke-width="1"/>
<line x1="11.5" y1="640.5" x2="420.5" y2="640.5" stroke="#dadada" stroke-width="1"/>
<line x1="11.5" y1="698.5" x2="427.5" y2="698.5" stroke="#dadada" stroke-width="1"/>
<line x1="11.5" y1="756.5" x2="420.5" y2="756.5" stroke="#dadada" stroke-width="1"/>
<line x1="11.5" y1="813.5" x2="427.5" y2="813.5" stroke="#dadada" stroke-width="1"/>
<line x1="18.5" y1="583.5" x2="18.5" y2="813.5" stroke="#ccc" stroke-width="1" stroke-dasharray="5 4"/>
<line x1="420.5" y1="583.5" x2="420.5" y2="813.5" stroke="#ccc" stroke-width="1" stroke-dasharray="5 4"/>
<line x1="18.0" y1="814.0" x2="420.5" y2="814.0" stroke="#b5b5b5" stroke-width="1" stroke-dasharray="4.5 4.5"/>
<text x="219.5" y="722" font-family="Liberation Sans" font-size="44" fill="#000" fill-opacity="0.1" text-anchor="middle">blave.org</text>
<text x="21.2" y="583.0" font-family="Liberation Sans" font-size="11" fill="#555" stroke="#555" stroke-width="0.18" text-anchor="start" dominant-baseline="central" >2000m</text>
<text x="21.2" y="640.0" font-family="Liberation Sans" font-size="11" fill="#555" stroke="#555" stroke-width="0.18" text-anchor="start" dominant-baseline="central" >1500m</text>
<text x="21.2" y="698.0" font-family="Liberation Sans" font-size="11" fill="#555" stroke="#555" stroke-width="0.18" text-anchor="start" dominant-baseline="central" >1000m</text>
<text x="21.2" y="756.0" font-family="Liberation Sans" font-size="11" fill="#555" stroke="#555" stroke-width="0.18" text-anchor="start" dominant-baseline="central" >500m</text>
<text x="21.2" y="813.0" font-family="Liberation Sans" font-size="11" fill="#555" stroke="#555" stroke-width="0.18" text-anchor="start" dominant-baseline="central" >0</text>
<text x="423.0" y="583.0" font-family="Liberation Sans" font-size="11" fill="#555" stroke="#555" stroke-width="0.18" text-anchor="end" dominant-baseline="central" >100m</text>
<text x="423.0" y="698.0" font-family="Liberation Sans" font-size="11" fill="#555" stroke="#555" stroke-width="0.18" text-anchor="end" dominant-baseline="central" >50m</text>
<text x="423.0" y="813.0" font-family="Liberation Sans" font-size="11" fill="#555" stroke="#555" stroke-width="0.18" text-anchor="end" dominant-baseline="central" >0</text>
<g fill="#282828"><rect x="18.75" y="812.95" width="1.5" height="0.55"/><rect x="20.77" y="812.41" width="1.5" height="1.09"/><rect x="22.77" y="811.83" width="1.5" height="1.67"/><rect x="24.79" y="810.66" width="1.5" height="2.84"/><rect x="26.79" y="811.48" width="1.5" height="2.02"/><rect x="28.80" y="810.08" width="1.5" height="3.42"/><rect x="30.81" y="806.34" width="1.5" height="7.16"/><rect x="32.83" y="806.58" width="1.5" height="6.92"/><rect x="34.83" y="806.81" width="1.5" height="6.69"/><rect x="36.84" y="806.81" width="1.5" height="6.69"/><rect x="38.85" y="806.34" width="1.5" height="7.16"/><rect x="40.86" y="807.16" width="1.5" height="6.34"/><rect x="42.88" y="810.66" width="1.5" height="2.84"/><rect x="44.88" y="811.25" width="1.5" height="2.25"/><rect x="46.89" y="809.49" width="1.5" height="4.01"/><rect x="48.91" y="812.65" width="1.5" height="0.85"/><rect x="50.91" y="811.25" width="1.5" height="2.25"/><rect x="52.92" y="812.18" width="1.5" height="1.32"/><rect x="54.93" y="811.25" width="1.5" height="2.25"/><rect x="56.94" y="805.99" width="1.5" height="7.51"/><rect x="58.95" y="809.49" width="1.5" height="4.01"/><rect x="60.96" y="802.49" width="1.5" height="11.01"/><rect x="62.97" y="797.81" width="1.5" height="15.69"/><rect x="64.98" y="796.30" width="1.5" height="17.20"/><rect x="67.00" y="799.33" width="1.5" height="14.17"/><rect x="69.00" y="805.17" width="1.5" height="8.33"/><rect x="71.01" y="797.23" width="1.5" height="16.27"/><rect x="73.02" y="803.07" width="1.5" height="10.43"/><rect x="75.03" y="809.49" width="1.5" height="4.01"/><rect x="77.04" y="808.33" width="1.5" height="5.17"/><rect x="79.05" y="805.41" width="1.5" height="8.09"/><rect x="81.06" y="807.16" width="1.5" height="6.34"/><rect x="83.07" y="810.66" width="1.5" height="2.84"/><rect x="85.08" y="804.00" width="1.5" height="9.50"/><rect x="87.09" y="804.82" width="1.5" height="8.68"/><rect x="89.10" y="809.14" width="1.5" height="4.36"/><rect x="91.11" y="794.89" width="1.5" height="18.61"/><rect x="93.12" y="796.65" width="1.5" height="16.85"/><rect x="95.13" y="789.05" width="1.5" height="24.45"/><rect x="97.14" y="793.73" width="1.5" height="19.77"/><rect x="99.15" y="787.89" width="1.5" height="25.61"/><rect x="101.16" y="793.14" width="1.5" height="20.36"/><rect x="103.17" y="800.15" width="1.5" height="13.35"/><rect x="105.18" y="792.32" width="1.5" height="21.18"/><rect x="107.19" y="802.14" width="1.5" height="11.36"/><rect x="109.20" y="800.97" width="1.5" height="12.53"/><rect x="111.21" y="803.65" width="1.5" height="9.85"/><rect x="113.22" y="806.34" width="1.5" height="7.16"/><rect x="115.23" y="800.15" width="1.5" height="13.35"/><rect x="117.24" y="798.16" width="1.5" height="15.34"/><rect x="119.25" y="797.00" width="1.5" height="16.50"/><rect x="121.26" y="800.00" width="1.5" height="13.50"/><rect x="123.27" y="801.17" width="1.5" height="12.33"/><rect x="125.28" y="794.19" width="1.5" height="19.31"/><rect x="127.29" y="800.88" width="1.5" height="12.62"/><rect x="129.31" y="800.88" width="1.5" height="12.62"/><rect x="131.31" y="796.08" width="1.5" height="17.42"/><rect x="133.32" y="797.97" width="1.5" height="15.53"/><rect x="135.33" y="802.91" width="1.5" height="10.59"/><rect x="137.34" y="801.46" width="1.5" height="12.04"/><rect x="139.35" y="796.51" width="1.5" height="16.99"/><rect x="141.36" y="800.88" width="1.5" height="12.62"/><rect x="143.38" y="806.98" width="1.5" height="6.52"/><rect x="145.38" y="798.55" width="1.5" height="14.95"/><rect x="147.39" y="798.26" width="1.5" height="15.24"/><rect x="149.40" y="799.42" width="1.5" height="14.08"/><rect x="151.41" y="799.42" width="1.5" height="14.08"/><rect x="153.42" y="794.19" width="1.5" height="19.31"/><rect x="155.43" y="790.99" width="1.5" height="22.51"/><rect x="157.44" y="789.53" width="1.5" height="23.97"/><rect x="159.45" y="789.53" width="1.5" height="23.97"/><rect x="161.46" y="802.91" width="1.5" height="10.59"/><rect x="163.47" y="792.15" width="1.5" height="21.35"/><rect x="165.48" y="794.19" width="1.5" height="19.31"/><rect x="167.49" y="796.80" width="1.5" height="16.70"/><rect x="169.50" y="789.24" width="1.5" height="24.26"/><rect x="171.51" y="801.17" width="1.5" height="12.33"/><rect x="173.52" y="790.99" width="1.5" height="22.51"/><rect x="175.53" y="781.10" width="1.5" height="32.40"/><rect x="177.54" y="801.89" width="1.5" height="11.61"/><rect x="179.55" y="790.99" width="1.5" height="22.51"/><rect x="181.56" y="789.24" width="1.5" height="24.26"/><rect x="183.57" y="798.26" width="1.5" height="15.24"/><rect x="185.58" y="779.35" width="1.5" height="34.15"/><rect x="187.59" y="770.92" width="1.5" height="42.58"/><rect x="189.60" y="745.17" width="1.5" height="68.33"/><rect x="191.61" y="729.61" width="1.5" height="83.89"/><rect x="193.62" y="760.45" width="1.5" height="53.05"/><rect x="195.63" y="728.16" width="1.5" height="85.34"/><rect x="197.64" y="731.07" width="1.5" height="82.43"/><rect x="199.65" y="712.45" width="1.5" height="101.05"/><rect x="201.66" y="730.63" width="1.5" height="82.87"/><rect x="203.67" y="740.08" width="1.5" height="73.42"/><rect x="205.68" y="708.82" width="1.5" height="104.68"/><rect x="207.69" y="736.45" width="1.5" height="77.05"/><rect x="209.70" y="766.99" width="1.5" height="46.51"/><rect x="211.71" y="753.17" width="1.5" height="60.33"/><rect x="213.72" y="753.90" width="1.5" height="59.60"/><rect x="215.73" y="769.17" width="1.5" height="44.33"/><rect x="217.74" y="796.80" width="1.5" height="16.70"/><rect x="219.75" y="795.35" width="1.5" height="18.15"/><rect x="221.76" y="801.89" width="1.5" height="11.61"/><rect x="223.77" y="809.17" width="1.5" height="4.33"/><rect x="225.78" y="801.17" width="1.5" height="12.33"/><rect x="227.79" y="809.17" width="1.5" height="4.33"/><rect x="229.80" y="791.28" width="1.5" height="22.22"/><rect x="231.81" y="774.70" width="1.5" height="38.80"/><rect x="233.82" y="739.36" width="1.5" height="74.14"/><rect x="235.83" y="779.35" width="1.5" height="34.15"/><rect x="237.84" y="786.62" width="1.5" height="26.88"/><rect x="239.85" y="774.70" width="1.5" height="38.80"/><rect x="241.86" y="771.35" width="1.5" height="42.15"/><rect x="243.87" y="780.08" width="1.5" height="33.42"/><rect x="245.88" y="780.81" width="1.5" height="32.69"/><rect x="247.89" y="766.99" width="1.5" height="46.51"/><rect x="249.90" y="790.26" width="1.5" height="23.24"/><rect x="251.91" y="774.26" width="1.5" height="39.24"/><rect x="253.92" y="791.71" width="1.5" height="21.79"/><rect x="255.93" y="797.53" width="1.5" height="15.97"/><rect x="257.94" y="781.53" width="1.5" height="31.97"/><rect x="259.95" y="790.26" width="1.5" height="23.24"/><rect x="261.96" y="808.44" width="1.5" height="5.06"/><rect x="263.97" y="782.99" width="1.5" height="30.51"/><rect x="265.99" y="777.17" width="1.5" height="36.33"/><rect x="268.00" y="785.90" width="1.5" height="27.60"/><rect x="270.00" y="772.81" width="1.5" height="40.69"/><rect x="272.01" y="750.26" width="1.5" height="63.24"/><rect x="274.02" y="798.26" width="1.5" height="15.24"/><rect x="276.03" y="765.54" width="1.5" height="47.96"/><rect x="278.04" y="741.25" width="1.5" height="72.25"/><rect x="280.05" y="704.45" width="1.5" height="109.05"/><rect x="282.06" y="719.00" width="1.5" height="94.50"/><rect x="284.07" y="707.36" width="1.5" height="106.14"/><rect x="286.08" y="764.81" width="1.5" height="48.69"/><rect x="288.09" y="789.53" width="1.5" height="23.97"/><rect x="290.10" y="768.44" width="1.5" height="45.06"/><rect x="292.11" y="745.17" width="1.5" height="68.33"/><rect x="294.12" y="761.17" width="1.5" height="52.33"/><rect x="296.13" y="769.17" width="1.5" height="44.33"/><rect x="298.14" y="780.08" width="1.5" height="33.42"/><rect x="300.15" y="790.26" width="1.5" height="23.24"/><rect x="302.16" y="785.17" width="1.5" height="28.33"/><rect x="304.17" y="785.17" width="1.5" height="28.33"/><rect x="306.18" y="790.99" width="1.5" height="22.51"/><rect x="308.19" y="793.89" width="1.5" height="19.61"/><rect x="310.20" y="781.97" width="1.5" height="31.53"/><rect x="312.21" y="792.15" width="1.5" height="21.35"/><rect x="314.22" y="785.17" width="1.5" height="28.33"/><rect x="316.23" y="766.99" width="1.5" height="46.51"/><rect x="318.24" y="753.84" width="1.5" height="59.66"/><rect x="320.25" y="785.61" width="1.5" height="27.89"/><rect x="322.26" y="789.85" width="1.5" height="23.65"/><rect x="324.27" y="775.02" width="1.5" height="38.48"/><rect x="326.28" y="783.04" width="1.5" height="30.46"/><rect x="328.29" y="777.44" width="1.5" height="36.06"/><rect x="330.30" y="771.69" width="1.5" height="41.81"/><rect x="332.31" y="778.05" width="1.5" height="35.45"/><rect x="334.32" y="789.85" width="1.5" height="23.65"/><rect x="336.33" y="789.85" width="1.5" height="23.65"/><rect x="338.34" y="790.15" width="1.5" height="23.35"/><rect x="340.35" y="770.94" width="1.5" height="42.56"/><rect x="342.36" y="767.91" width="1.5" height="45.59"/><rect x="344.37" y="792.12" width="1.5" height="21.38"/><rect x="346.38" y="788.64" width="1.5" height="24.86"/><rect x="348.39" y="767.46" width="1.5" height="46.04"/><rect x="350.40" y="760.80" width="1.5" height="52.70"/><rect x="352.41" y="777.75" width="1.5" height="35.75"/><rect x="354.42" y="780.77" width="1.5" height="32.73"/><rect x="356.43" y="758.84" width="1.5" height="54.66"/><rect x="358.44" y="792.87" width="1.5" height="20.63"/><rect x="360.45" y="776.99" width="1.5" height="36.51"/><rect x="362.46" y="778.05" width="1.5" height="35.45"/><rect x="364.47" y="753.84" width="1.5" height="59.66"/><rect x="366.48" y="801.20" width="1.5" height="12.30"/><rect x="368.49" y="803.16" width="1.5" height="10.34"/><rect x="370.50" y="791.36" width="1.5" height="22.14"/><rect x="372.51" y="788.34" width="1.5" height="25.16"/><rect x="374.52" y="790.15" width="1.5" height="23.35"/><rect x="376.53" y="795.90" width="1.5" height="17.60"/><rect x="378.54" y="792.87" width="1.5" height="20.63"/><rect x="380.55" y="791.06" width="1.5" height="22.44"/><rect x="382.56" y="770.94" width="1.5" height="42.56"/><rect x="384.57" y="750.51" width="1.5" height="62.99"/><rect x="386.58" y="776.54" width="1.5" height="36.96"/><rect x="388.59" y="724.49" width="1.5" height="89.01"/><rect x="390.60" y="776.99" width="1.5" height="36.51"/><rect x="392.61" y="718.44" width="1.5" height="95.06"/><rect x="394.62" y="749.30" width="1.5" height="64.20"/><rect x="396.63" y="757.78" width="1.5" height="55.72"/><rect x="398.64" y="777.44" width="1.5" height="36.06"/><rect x="400.65" y="694.54" width="1.5" height="118.96"/><rect x="402.66" y="753.84" width="1.5" height="59.66"/><rect x="404.67" y="760.80" width="1.5" height="52.70"/><rect x="406.68" y="731.60" width="1.5" height="81.90"/><rect x="408.69" y="771.39" width="1.5" height="42.11"/><rect x="410.70" y="796.20" width="1.5" height="17.30"/><rect x="412.71" y="792.87" width="1.5" height="20.63"/><rect x="414.72" y="788.03" width="1.5" height="25.47"/><rect x="416.73" y="762.92" width="1.5" height="50.58"/><rect x="418.74" y="794.39" width="1.5" height="19.11"/></g>
<path d="M18.70 706.00 L23.40 706.30 L31.40 707.00 L36.70 708.00 L44.70 709.10 L55.40 709.80 L62.10 710.70 L67.40 712.70 L75.40 715.00 L84.80 716.40 L91.40 717.80 L96.80 720.40 L103.50 724.00 L110.10 726.30 L116.80 728.00 L123.80 731.40 L129.60 734.00 L135.50 736.40 L141.30 738.30 L147.10 740.10 L152.90 743.00 L158.70 745.90 L164.50 748.50 L170.40 751.00 L176.20 753.90 L182.00 757.20 L186.40 759.70 L189.30 761.90 L192.20 764.80 L195.10 770.60 L199.40 778.60 L203.80 788.10 L208.20 796.80 L212.50 805.50 L216.90 812.80 L219.80 814.00 L219.8 813.5 L18.5 813.5 L18.5 706 Z" fill="rgb(228,158,158)" fill-opacity="0.2"/>
<path d="M221.00 813.80 L222.40 813.50 L226.70 812.10 L230.40 810.60 L234.00 805.50 L238.40 801.90 L242.70 798.30 L247.10 793.90 L251.50 789.50 L255.80 786.60 L260.20 784.00 L264.50 781.50 L268.90 777.20 L272.50 773.50 L276.20 769.90 L279.10 763.40 L282.00 756.10 L284.20 751.00 L287.10 748.80 L290.00 745.90 L292.90 741.50 L297.30 737.20 L302.40 733.50 L308.20 729.90 L314.00 726.30 L318.30 721.90 L322.50 718.70 L328.60 712.70 L333.10 708.20 L336.90 705.00 L343.00 699.50 L347.60 697.20 L352.20 691.80 L357.60 686.40 L363.00 682.60 L365.30 678.70 L370.70 676.40 L376.80 673.30 L381.40 671.00 L385.30 666.40 L389.10 660.30 L392.20 655.70 L395.30 649.50 L399.90 644.10 L402.20 638.00 L407.60 629.50 L412.20 625.70 L416.80 623.40 L419.90 620.30 L420.5 620.3 L420.5 813.5 L221 813.5 Z" fill="rgb(188,220,165)" fill-opacity="0.2"/>
<path d="M18.70 706.00 L23.40 706.30 L31.40 707.00 L36.70 708.00 L44.70 709.10 L55.40 709.80 L62.10 710.70 L67.40 712.70 L75.40 715.00 L84.80 716.40 L91.40 717.80 L96.80 720.40 L103.50 724.00 L110.10 726.30 L116.80 728.00 L123.80 731.40 L129.60 734.00 L135.50 736.40 L141.30 738.30 L147.10 740.10 L152.90 743.00 L158.70 745.90 L164.50 748.50 L170.40 751.00 L176.20 753.90 L182.00 757.20 L186.40 759.70 L189.30 761.90 L192.20 764.80 L195.10 770.60 L199.40 778.60 L203.80 788.10 L208.20 796.80 L212.50 805.50 L216.90 812.80 L219.80 814.00" fill="none" stroke="#e25252" stroke-width="2.5" stroke-linejoin="round"/>
<path d="M221.00 813.80 L222.40 813.50 L226.70 812.10 L230.40 810.60 L234.00 805.50 L238.40 801.90 L242.70 798.30 L247.10 793.90 L251.50 789.50 L255.80 786.60 L260.20 784.00 L264.50 781.50 L268.90 777.20 L272.50 773.50 L276.20 769.90 L279.10 763.40 L282.00 756.10 L284.20 751.00 L287.10 748.80 L290.00 745.90 L292.90 741.50 L297.30 737.20 L302.40 733.50 L308.20 729.90 L314.00 726.30 L318.30 721.90 L322.50 718.70 L328.60 712.70 L333.10 708.20 L336.90 705.00 L343.00 699.50 L347.60 697.20 L352.20 691.80 L357.60 686.40 L363.00 682.60 L365.30 678.70 L370.70 676.40 L376.80 673.30 L381.40 671.00 L385.30 666.40 L389.10 660.30 L392.20 655.70 L395.30 649.50 L399.90 644.10 L402.20 638.00 L407.60 629.50 L412.20 625.70 L416.80 623.40 L419.90 620.30" fill="none" stroke="#8ccd5a" stroke-width="2.5" stroke-linejoin="round"/>
<line x1="220" y1="583.5" x2="220" y2="813.5" stroke="#f98b4e" stroke-width="2.6" stroke-dasharray="4.6 4.4"/>
<rect x="171" y="631.5" width="98" height="18" fill="#fdfdfd"/>
<text x="220" y="640.5" font-family="Liberation Sans" font-size="12.5" fill="#f5894b" text-anchor="middle" dominant-baseline="central">Price: $77710.8</text>
<ellipse cx="208.2" cy="742" rx="20.5" ry="39.7" transform="rotate(0 208.2 742)" fill="none" stroke="#f02820" stroke-width="2.2"/>
<text x="168.7" y="829.5" font-family="Liberation Sans" font-size="11" fill="#555" stroke="#555" stroke-width="0.18" text-anchor="middle" dominant-baseline="central" >70000</text>
<text x="255" y="829.5" font-family="Liberation Sans" font-size="11" fill="#555" stroke="#555" stroke-width="0.18" text-anchor="middle" dominant-baseline="central" >80000</text>
<text x="341.5" y="829.5" font-family="Liberation Sans" font-size="11" fill="#555" stroke="#555" stroke-width="0.18" text-anchor="middle" dominant-baseline="central" >90000</text>
<line x1="470.5" y1="583.5" x2="886.5" y2="583.5" stroke="#dadada" stroke-width="1"/>
<line x1="470.5" y1="698.5" x2="886.5" y2="698.5" stroke="#dadada" stroke-width="1"/>
<line x1="470.5" y1="813.5" x2="886.5" y2="813.5" stroke="#dadada" stroke-width="1"/>
<line x1="477.5" y1="583.5" x2="477.5" y2="813.5" stroke="#ccc" stroke-width="1" stroke-dasharray="5 4"/>
<line x1="879.5" y1="583.5" x2="879.5" y2="813.5" stroke="#ccc" stroke-width="1" stroke-dasharray="5 4"/>
<line x1="477.0" y1="814.0" x2="879.5" y2="814.0" stroke="#b5b5b5" stroke-width="1" stroke-dasharray="4.5 4.5"/>
<text x="678.5" y="722" font-family="Liberation Sans" font-size="44" fill="#000" fill-opacity="0.1" text-anchor="middle">blave.org</text>
<text x="480.2" y="583.0" font-family="Liberation Sans" font-size="11" fill="#555" stroke="#555" stroke-width="0.18" text-anchor="start" dominant-baseline="central" >1000m</text>
<text x="480.2" y="698.0" font-family="Liberation Sans" font-size="11" fill="#555" stroke="#555" stroke-width="0.18" text-anchor="start" dominant-baseline="central" >500m</text>
<text x="480.2" y="813.0" font-family="Liberation Sans" font-size="11" fill="#555" stroke="#555" stroke-width="0.18" text-anchor="start" dominant-baseline="central" >0</text>
<text x="882.0" y="583.0" font-family="Liberation Sans" font-size="11" fill="#555" stroke="#555" stroke-width="0.18" text-anchor="end" dominant-baseline="central" >40m</text>
<text x="882.0" y="698.0" font-family="Liberation Sans" font-size="11" fill="#555" stroke="#555" stroke-width="0.18" text-anchor="end" dominant-baseline="central" >20m</text>
<text x="882.0" y="813.0" font-family="Liberation Sans" font-size="11" fill="#555" stroke="#555" stroke-width="0.18" text-anchor="end" dominant-baseline="central" >0</text>
<g fill="#282828"><rect x="477.75" y="809.14" width="1.5" height="4.36"/><rect x="479.76" y="806.57" width="1.5" height="6.93"/><rect x="481.77" y="804.00" width="1.5" height="9.50"/><rect x="483.79" y="809.49" width="1.5" height="4.01"/><rect x="485.80" y="806.34" width="1.5" height="7.16"/><rect x="487.81" y="805.17" width="1.5" height="8.33"/><rect x="489.81" y="807.74" width="1.5" height="5.76"/><rect x="491.82" y="806.34" width="1.5" height="7.16"/><rect x="493.83" y="811.83" width="1.5" height="1.67"/><rect x="495.85" y="805.17" width="1.5" height="8.33"/><rect x="497.86" y="808.68" width="1.5" height="4.82"/><rect x="499.87" y="805.17" width="1.5" height="8.33"/><rect x="501.88" y="808.33" width="1.5" height="5.17"/><rect x="503.88" y="809.14" width="1.5" height="4.36"/><rect x="505.89" y="807.74" width="1.5" height="5.76"/><rect x="507.90" y="809.84" width="1.5" height="3.66"/><rect x="509.92" y="800.97" width="1.5" height="12.53"/><rect x="511.92" y="811.01" width="1.5" height="2.49"/><rect x="513.93" y="809.14" width="1.5" height="4.36"/><rect x="515.94" y="806.34" width="1.5" height="7.16"/><rect x="517.96" y="804.47" width="1.5" height="9.03"/><rect x="519.97" y="807.97" width="1.5" height="5.53"/><rect x="521.98" y="809.84" width="1.5" height="3.66"/><rect x="523.99" y="805.17" width="1.5" height="8.33"/><rect x="526.00" y="811.83" width="1.5" height="1.67"/><rect x="528.00" y="807.74" width="1.5" height="5.76"/><rect x="530.01" y="808.33" width="1.5" height="5.17"/><rect x="532.02" y="794.89" width="1.5" height="18.61"/><rect x="534.03" y="807.16" width="1.5" height="6.34"/><rect x="536.04" y="801.90" width="1.5" height="11.60"/><rect x="538.05" y="793.14" width="1.5" height="20.36"/><rect x="540.06" y="791.16" width="1.5" height="22.34"/><rect x="542.08" y="798.63" width="1.5" height="14.87"/><rect x="544.09" y="789.05" width="1.5" height="24.45"/><rect x="546.10" y="799.80" width="1.5" height="13.70"/><rect x="548.11" y="803.65" width="1.5" height="9.85"/><rect x="550.12" y="800.97" width="1.5" height="12.53"/><rect x="552.12" y="801.67" width="1.5" height="11.83"/><rect x="554.13" y="801.32" width="1.5" height="12.18"/><rect x="556.14" y="802.14" width="1.5" height="11.36"/><rect x="558.15" y="805.17" width="1.5" height="8.33"/><rect x="560.16" y="802.84" width="1.5" height="10.66"/><rect x="562.17" y="798.98" width="1.5" height="14.52"/><rect x="564.18" y="803.07" width="1.5" height="10.43"/><rect x="566.19" y="796.06" width="1.5" height="17.44"/><rect x="568.20" y="796.06" width="1.5" height="17.44"/><rect x="570.22" y="797.00" width="1.5" height="16.50"/><rect x="572.23" y="787.30" width="1.5" height="26.20"/><rect x="574.24" y="799.80" width="1.5" height="13.70"/><rect x="576.25" y="772.94" width="1.5" height="40.56"/><rect x="578.25" y="792.79" width="1.5" height="20.71"/><rect x="580.26" y="805.53" width="1.5" height="7.97"/><rect x="582.27" y="799.71" width="1.5" height="13.79"/><rect x="584.28" y="796.08" width="1.5" height="17.42"/><rect x="586.29" y="793.60" width="1.5" height="19.90"/><rect x="588.30" y="801.17" width="1.5" height="12.33"/><rect x="590.31" y="796.08" width="1.5" height="17.42"/><rect x="592.33" y="798.55" width="1.5" height="14.95"/><rect x="594.34" y="790.70" width="1.5" height="22.80"/><rect x="596.35" y="800.00" width="1.5" height="13.50"/><rect x="598.36" y="793.17" width="1.5" height="20.33"/><rect x="600.37" y="799.42" width="1.5" height="14.08"/><rect x="602.38" y="780.08" width="1.5" height="33.42"/><rect x="604.38" y="798.55" width="1.5" height="14.95"/><rect x="606.39" y="788.80" width="1.5" height="24.70"/><rect x="608.40" y="777.90" width="1.5" height="35.60"/><rect x="610.41" y="796.08" width="1.5" height="17.42"/><rect x="612.42" y="787.79" width="1.5" height="25.71"/><rect x="614.43" y="789.24" width="1.5" height="24.26"/><rect x="616.44" y="796.80" width="1.5" height="16.70"/><rect x="618.45" y="786.91" width="1.5" height="26.59"/><rect x="620.46" y="795.06" width="1.5" height="18.44"/><rect x="622.48" y="800.88" width="1.5" height="12.62"/><rect x="624.49" y="762.63" width="1.5" height="50.87"/><rect x="626.50" y="789.82" width="1.5" height="23.68"/><rect x="628.50" y="777.90" width="1.5" height="35.60"/><rect x="630.51" y="788.80" width="1.5" height="24.70"/><rect x="632.52" y="775.72" width="1.5" height="37.78"/><rect x="634.53" y="793.17" width="1.5" height="20.33"/><rect x="636.54" y="773.53" width="1.5" height="39.97"/><rect x="638.55" y="785.90" width="1.5" height="27.60"/><rect x="640.56" y="774.70" width="1.5" height="38.80"/><rect x="642.58" y="777.90" width="1.5" height="35.60"/><rect x="644.59" y="751.72" width="1.5" height="61.78"/><rect x="646.60" y="781.97" width="1.5" height="31.53"/><rect x="648.61" y="746.19" width="1.5" height="67.31"/><rect x="650.62" y="736.88" width="1.5" height="76.62"/><rect x="652.62" y="766.26" width="1.5" height="47.24"/><rect x="654.63" y="748.08" width="1.5" height="65.42"/><rect x="656.64" y="767.72" width="1.5" height="45.78"/><rect x="658.65" y="738.92" width="1.5" height="74.58"/><rect x="660.66" y="777.17" width="1.5" height="36.33"/><rect x="662.67" y="741.83" width="1.5" height="71.67"/><rect x="664.68" y="711.72" width="1.5" height="101.78"/><rect x="666.69" y="758.26" width="1.5" height="55.24"/><rect x="668.70" y="712.74" width="1.5" height="100.76"/><rect x="670.71" y="704.89" width="1.5" height="108.61"/><rect x="672.72" y="699.36" width="1.5" height="114.14"/><rect x="674.74" y="771.35" width="1.5" height="42.15"/><rect x="676.75" y="805.53" width="1.5" height="7.97"/><rect x="678.75" y="797.41" width="1.5" height="16.09"/><rect x="680.76" y="801.20" width="1.5" height="12.30"/><rect x="682.77" y="781.07" width="1.5" height="32.43"/><rect x="684.78" y="803.77" width="1.5" height="9.73"/><rect x="686.79" y="812.84" width="1.5" height="0.66"/><rect x="690.81" y="808.76" width="1.5" height="4.74"/><rect x="692.83" y="796.66" width="1.5" height="16.84"/><rect x="694.84" y="768.97" width="1.5" height="44.53"/><rect x="696.85" y="776.99" width="1.5" height="36.51"/><rect x="698.86" y="810.27" width="1.5" height="3.23"/><rect x="700.87" y="812.84" width="1.5" height="0.66"/><rect x="702.88" y="808.31" width="1.5" height="5.19"/><rect x="704.88" y="789.85" width="1.5" height="23.65"/><rect x="706.89" y="789.09" width="1.5" height="24.41"/><rect x="708.90" y="753.84" width="1.5" height="59.66"/><rect x="710.91" y="792.87" width="1.5" height="20.63"/><rect x="712.92" y="798.93" width="1.5" height="14.57"/><rect x="714.93" y="809.82" width="1.5" height="3.68"/><rect x="716.94" y="795.90" width="1.5" height="17.60"/><rect x="718.95" y="731.60" width="1.5" height="81.90"/><rect x="720.96" y="768.67" width="1.5" height="44.83"/><rect x="722.97" y="741.44" width="1.5" height="72.06"/><rect x="724.99" y="744.77" width="1.5" height="68.73"/><rect x="727.00" y="759.29" width="1.5" height="54.21"/><rect x="729.00" y="801.20" width="1.5" height="12.30"/><rect x="731.01" y="776.54" width="1.5" height="36.96"/><rect x="733.02" y="786.82" width="1.5" height="26.68"/><rect x="735.03" y="776.23" width="1.5" height="37.27"/><rect x="737.04" y="796.66" width="1.5" height="16.84"/><rect x="739.05" y="763.83" width="1.5" height="49.67"/><rect x="741.07" y="768.67" width="1.5" height="44.83"/><rect x="743.08" y="795.90" width="1.5" height="17.60"/><rect x="745.09" y="801.20" width="1.5" height="12.30"/><rect x="747.10" y="759.89" width="1.5" height="53.61"/><rect x="749.11" y="798.17" width="1.5" height="15.33"/><rect x="751.12" y="762.92" width="1.5" height="50.58"/><rect x="753.12" y="731.60" width="1.5" height="81.90"/><rect x="755.13" y="730.85" width="1.5" height="82.65"/><rect x="757.14" y="766.40" width="1.5" height="47.10"/><rect x="759.15" y="801.20" width="1.5" height="12.30"/><rect x="761.16" y="768.67" width="1.5" height="44.83"/><rect x="763.17" y="792.12" width="1.5" height="21.38"/><rect x="765.18" y="786.82" width="1.5" height="26.68"/><rect x="767.19" y="725.55" width="1.5" height="87.95"/><rect x="769.20" y="784.55" width="1.5" height="28.95"/><rect x="771.21" y="775.02" width="1.5" height="38.48"/><rect x="773.22" y="795.90" width="1.5" height="17.60"/><rect x="775.23" y="785.31" width="1.5" height="28.19"/><rect x="777.24" y="789.85" width="1.5" height="23.65"/><rect x="779.25" y="744.46" width="1.5" height="69.04"/><rect x="781.26" y="786.07" width="1.5" height="27.43"/><rect x="783.27" y="803.77" width="1.5" height="9.73"/><rect x="785.28" y="790.61" width="1.5" height="22.89"/><rect x="787.29" y="791.06" width="1.5" height="22.44"/><rect x="789.30" y="776.23" width="1.5" height="37.27"/><rect x="791.31" y="763.37" width="1.5" height="50.13"/><rect x="793.33" y="708.15" width="1.5" height="105.35"/><rect x="795.34" y="736.90" width="1.5" height="76.60"/><rect x="797.35" y="784.55" width="1.5" height="28.95"/><rect x="799.36" y="808.76" width="1.5" height="4.74"/><rect x="801.37" y="747.79" width="1.5" height="65.71"/><rect x="803.38" y="693.33" width="1.5" height="120.17"/><rect x="805.38" y="726.31" width="1.5" height="87.19"/><rect x="807.39" y="631.00" width="1.5" height="182.50"/><rect x="809.40" y="734.18" width="1.5" height="79.32"/><rect x="811.41" y="746.73" width="1.5" height="66.77"/><rect x="813.42" y="773.96" width="1.5" height="39.54"/><rect x="815.43" y="704.37" width="1.5" height="109.13"/><rect x="817.44" y="686.97" width="1.5" height="126.53"/><rect x="819.45" y="718.44" width="1.5" height="95.06"/><rect x="821.46" y="727.82" width="1.5" height="85.68"/><rect x="823.47" y="739.17" width="1.5" height="74.33"/><rect x="825.48" y="706.94" width="1.5" height="106.56"/><rect x="827.49" y="738.11" width="1.5" height="75.39"/><rect x="829.50" y="733.12" width="1.5" height="80.38"/><rect x="831.51" y="721.47" width="1.5" height="92.03"/><rect x="833.52" y="707.40" width="1.5" height="106.10"/><rect x="835.53" y="747.49" width="1.5" height="66.01"/><rect x="837.54" y="710.42" width="1.5" height="103.08"/><rect x="839.55" y="722.98" width="1.5" height="90.52"/><rect x="841.56" y="740.68" width="1.5" height="72.82"/><rect x="843.58" y="724.80" width="1.5" height="88.70"/><rect x="845.59" y="713.45" width="1.5" height="100.05"/><rect x="847.60" y="749.76" width="1.5" height="63.74"/><rect x="849.61" y="780.02" width="1.5" height="33.48"/><rect x="851.62" y="760.80" width="1.5" height="52.70"/><rect x="853.62" y="735.39" width="1.5" height="78.11"/><rect x="855.63" y="764.43" width="1.5" height="49.07"/><rect x="857.64" y="761.10" width="1.5" height="52.40"/><rect x="859.65" y="742.19" width="1.5" height="71.31"/><rect x="861.66" y="750.82" width="1.5" height="62.68"/><rect x="863.67" y="778.50" width="1.5" height="35.00"/><rect x="865.68" y="786.07" width="1.5" height="27.43"/><rect x="867.69" y="793.63" width="1.5" height="19.87"/><rect x="869.70" y="700.59" width="1.5" height="112.91"/><rect x="871.71" y="762.31" width="1.5" height="51.19"/><rect x="873.72" y="723.28" width="1.5" height="90.22"/><rect x="875.73" y="733.57" width="1.5" height="79.93"/><rect x="877.74" y="793.63" width="1.5" height="19.87"/></g>
<path d="M478.00 716.00 L486.00 717.40 L496.70 718.70 L507.40 720.00 L518.10 721.40 L528.70 722.40 L536.80 724.00 L544.80 727.40 L552.80 729.40 L563.50 732.00 L571.50 734.10 L577.00 736.40 L582.80 739.40 L588.60 741.80 L594.50 744.20 L600.30 745.90 L606.10 748.10 L611.90 751.00 L617.70 753.50 L623.50 755.80 L627.90 759.00 L632.30 761.90 L638.10 764.50 L643.90 768.40 L648.30 773.50 L652.60 778.60 L658.40 783.70 L662.80 788.10 L667.20 793.90 L671.50 802.60 L674.40 809.90 L677.30 813.50 L678.50 813.80 L678.5 813.5 L477.5 813.5 L477.5 716 Z" fill="rgb(228,158,158)" fill-opacity="0.2"/>
<path d="M680.00 813.80 L681.50 812.50 L686.10 811.80 L690.60 811.00 L693.60 809.50 L698.20 806.80 L702.70 806.50 L707.30 804.70 L711.00 801.60 L716.30 801.20 L720.90 796.70 L725.40 790.60 L729.20 786.80 L733.70 783.80 L737.50 781.50 L742.10 778.00 L746.60 776.20 L751.10 773.20 L755.70 767.20 L759.50 763.40 L764.70 759.90 L767.80 756.60 L771.60 753.50 L776.80 750.50 L780.00 746.70 L784.60 746.00 L789.10 743.70 L793.60 738.40 L796.70 733.10 L799.70 731.10 L802.70 726.30 L805.70 720.30 L808.80 711.20 L812.60 706.60 L816.30 702.10 L819.40 696.00 L822.40 690.00 L826.00 685.10 L833.80 669.70 L841.50 656.80 L846.70 646.40 L854.40 638.70 L862.10 628.40 L868.60 624.50 L873.70 616.80 L877.60 610.80 L879.50 609.00 L879.5 609 L879.5 813.5 L680 813.5 Z" fill="rgb(188,220,165)" fill-opacity="0.2"/>
<path d="M478.00 716.00 L486.00 717.40 L496.70 718.70 L507.40 720.00 L518.10 721.40 L528.70 722.40 L536.80 724.00 L544.80 727.40 L552.80 729.40 L563.50 732.00 L571.50 734.10 L577.00 736.40 L582.80 739.40 L588.60 741.80 L594.50 744.20 L600.30 745.90 L606.10 748.10 L611.90 751.00 L617.70 753.50 L623.50 755.80 L627.90 759.00 L632.30 761.90 L638.10 764.50 L643.90 768.40 L648.30 773.50 L652.60 778.60 L658.40 783.70 L662.80 788.10 L667.20 793.90 L671.50 802.60 L674.40 809.90 L677.30 813.50 L678.50 813.80" fill="none" stroke="#e25252" stroke-width="2.5" stroke-linejoin="round"/>
<path d="M680.00 813.80 L681.50 812.50 L686.10 811.80 L690.60 811.00 L693.60 809.50 L698.20 806.80 L702.70 806.50 L707.30 804.70 L711.00 801.60 L716.30 801.20 L720.90 796.70 L725.40 790.60 L729.20 786.80 L733.70 783.80 L737.50 781.50 L742.10 778.00 L746.60 776.20 L751.10 773.20 L755.70 767.20 L759.50 763.40 L764.70 759.90 L767.80 756.60 L771.60 753.50 L776.80 750.50 L780.00 746.70 L784.60 746.00 L789.10 743.70 L793.60 738.40 L796.70 733.10 L799.70 731.10 L802.70 726.30 L805.70 720.30 L808.80 711.20 L812.60 706.60 L816.30 702.10 L819.40 696.00 L822.40 690.00 L826.00 685.10 L833.80 669.70 L841.50 656.80 L846.70 646.40 L854.40 638.70 L862.10 628.40 L868.60 624.50 L873.70 616.80 L877.60 610.80 L879.50 609.00" fill="none" stroke="#8ccd5a" stroke-width="2.5" stroke-linejoin="round"/>
<line x1="679" y1="583.5" x2="679" y2="813.5" stroke="#f98b4e" stroke-width="2.6" stroke-dasharray="4.6 4.4"/>
<rect x="630" y="622" width="98" height="18" fill="#fdfdfd"/>
<text x="679" y="631" font-family="Liberation Sans" font-size="12.5" fill="#f5894b" text-anchor="middle" dominant-baseline="central">Price: $2317.82</text>
<ellipse cx="664.6" cy="734" rx="27.2" ry="61.8" transform="rotate(15 664.6 734)" fill="none" stroke="#f02820" stroke-width="2.2"/>
<text x="599" y="829.5" font-family="Liberation Sans" font-size="11" fill="#555" stroke="#555" stroke-width="0.18" text-anchor="middle" dominant-baseline="central" >2000</text>
<text x="657.5" y="829.5" font-family="Liberation Sans" font-size="11" fill="#555" stroke="#555" stroke-width="0.18" text-anchor="middle" dominant-baseline="central" >2200</text>
<text x="715" y="829.5" font-family="Liberation Sans" font-size="11" fill="#555" stroke="#555" stroke-width="0.18" text-anchor="middle" dominant-baseline="central" >2400</text>
<text x="773" y="829.5" font-family="Liberation Sans" font-size="11" fill="#555" stroke="#555" stroke-width="0.18" text-anchor="middle" dominant-baseline="central" >2600</text>
<text x="831.7" y="829.5" font-family="Liberation Sans" font-size="11" fill="#555" stroke="#555" stroke-width="0.18" text-anchor="middle" dominant-baseline="central" >2800</text></svg>
<svg style="position:absolute;left:0;top:0" width="899" height="846"><path d="M51 31.2 L56 36.2 L61 31.2" fill="none" stroke="#333" stroke-width="1.3"/><circle cx="102.7" cy="33" r="7" fill="#fcd9c4"/><path d="M98.80 30.70 L100.90 32.50 L102.70 30.00 L104.50 32.50 L106.60 30.70 L105.90 35.80 L99.50 35.80 Z" fill="#f08a4b"/><path d="M150.75 28 V37.5 M146 32.75 H155.5" stroke="#8a8a8a" stroke-width="1.4"/><circle cx="347.6" cy="91" r="7.2" fill="#fcd9c4"/><path d="M343.59 88.63 L345.75 90.49 L347.60 87.91 L349.45 90.49 L351.61 88.63 L350.89 93.88 L344.31 93.88 Z" fill="#f08a4b"/><circle cx="539.1" cy="49.2" r="5.1" fill="none" stroke="#8e8e8e" stroke-width="1"/><text x="539.1" y="52.1" font-size="8.2" font-weight="bold" text-anchor="middle" fill="#8e8e8e" font-family="Liberation Sans">?</text><path d="M678.8 45.8 L683.5 50.2 L687.3 46.8 L693 53.8" fill="none" stroke="#e2474c" stroke-width="1.45" stroke-linejoin="round" stroke-linecap="round"/><path d="M690.4 53.8 L693 53.8 L693 51.199999999999996" fill="none" stroke="#e2474c" stroke-width="1.45" stroke-linejoin="round" stroke-linecap="round"/><path d="M819 54.2 L823.3 49 L826.8 52.8 L833.3 45.6" fill="none" stroke="#8ccb5c" stroke-width="1.45" stroke-linejoin="round" stroke-linecap="round"/><path d="M830.6999999999999 45.6 L833.3 45.6 L833.3 48.2" fill="none" stroke="#8ccb5c" stroke-width="1.45" stroke-linejoin="round" stroke-linecap="round"/><circle cx="570.4" cy="74.2" r="5.1" fill="none" stroke="#8e8e8e" stroke-width="1"/><text x="570.4" y="77.10000000000001" font-size="8.2" font-weight="bold" text-anchor="middle" fill="#8e8e8e" font-family="Liberation Sans">?</text><circle cx="568.1999999999999" cy="99.2" r="5.1" fill="none" stroke="#8e8e8e" stroke-width="1"/><text x="568.1999999999999" y="102.10000000000001" font-size="8.2" font-weight="bold" text-anchor="middle" fill="#8e8e8e" font-family="Liberation Sans">?</text><path d="M132.4 237.3 L134.8 240.4 L137.3 237.9 L140.3 242.0" fill="none" stroke="#e2474c" stroke-width="1.15" stroke-linejoin="round" stroke-linecap="round"/><path d="M138.9 242.0 L140.3 242.0 L140.3 240.6" fill="none" stroke="#e2474c" stroke-width="1.15" stroke-linejoin="round" stroke-linecap="round"/><path d="M219.4 242.4 L221.6 239.3 L223.7 241.5 L226.4 237.6" fill="none" stroke="#8ccb5c" stroke-width="1.15" stroke-linejoin="round" stroke-linecap="round"/><path d="M225.0 237.6 L226.4 237.6 L226.4 239.0" fill="none" stroke="#8ccb5c" stroke-width="1.15" stroke-linejoin="round" stroke-linecap="round"/><path d="M590.4 237.3 L592.8 240.4 L595.3 237.9 L598.3 242.0" fill="none" stroke="#e2474c" stroke-width="1.15" stroke-linejoin="round" stroke-linecap="round"/><path d="M596.9 242.0 L598.3 242.0 L598.3 240.6" fill="none" stroke="#e2474c" stroke-width="1.15" stroke-linejoin="round" stroke-linecap="round"/><path d="M676.4 242.4 L678.6 239.3 L680.7 241.5 L683.4 237.6" fill="none" stroke="#8ccb5c" stroke-width="1.15" stroke-linejoin="round" stroke-linecap="round"/><path d="M682.0 237.6 L683.4 237.6 L683.4 239.0" fill="none" stroke="#8ccb5c" stroke-width="1.15" stroke-linejoin="round" stroke-linecap="round"/></svg>
<svg style="position:absolute;left:0;top:0" width="899" height="846" font-family="Liberation Sans"><text transform="translate(12.81 38.90) scale(0.930 1)" font-size="15" font-weight="normal" letter-spacing="-0.122" fill="#222" stroke="#222" stroke-width="0.35">BTC</text>
<text transform="translate(116.71 35.75) scale(0.934 1)" font-size="10.9" font-weight="normal" letter-spacing="0.000" fill="#8a8a8a" stroke="#8a8a8a" stroke-width="0.2">ETH</text>
<text transform="translate(395.78 35.80) scale(1.029 1)" font-size="9" font-weight="normal" letter-spacing="0.000" fill="#fff" stroke="#fff" stroke-width="0.2">BTC</text>
<text transform="translate(12.91 95.00) scale(0.936 1)" font-size="11.5" font-weight="bold" letter-spacing="0.000" fill="#555">Time</text>
<text transform="translate(63.04 95.00) scale(1.032 1)" font-size="11.5" font-weight="normal" letter-spacing="0.000" fill="#c4c4c4" stroke="#c4c4c4" stroke-width="0.2">5min</text>
<text transform="translate(113.16 95.00) scale(0.992 1)" font-size="11.5" font-weight="normal" letter-spacing="0.000" fill="#c4c4c4" stroke="#c4c4c4" stroke-width="0.2">15min</text>
<text transform="translate(203.72 95.00) scale(1.120 1)" font-size="11.5" font-weight="normal" letter-spacing="0.258" fill="#c4c4c4" stroke="#c4c4c4" stroke-width="0.2">4h</text>
<text transform="translate(242.44 95.00) scale(1.120 1)" font-size="11.5" font-weight="normal" letter-spacing="0.061" fill="#c4c4c4" stroke="#c4c4c4" stroke-width="0.2">8h</text>
<text transform="translate(280.13 95.00) scale(1.023 1)" font-size="11.5" font-weight="normal" letter-spacing="0.000" fill="#c4c4c4" stroke="#c4c4c4" stroke-width="0.2">1d</text>
<text transform="translate(167.92 95.00) scale(0.830 1)" font-size="11.5" font-weight="bold" letter-spacing="0.000" fill="#333">1h</text>
<text transform="translate(360.90 95.00) scale(1.082 1)" font-size="11.5" font-weight="normal" letter-spacing="0.000" fill="#555" stroke="#555" stroke-width="0.2">Custom</text>
<text transform="translate(471.81 28.00) scale(1.062 1)" font-size="12.8" font-weight="normal" letter-spacing="-0.000" fill="#222" stroke="#222" stroke-width="0.35">Confluence Analysis &gt;</text>
<text transform="translate(471.53 52.00) scale(1.073 1)" font-size="11.3" font-weight="normal" letter-spacing="0.000" fill="#777">Prediction</text>
<text transform="translate(629.46 52.90) scale(1.023 1)" font-size="13.7" font-weight="normal" letter-spacing="0.000" fill="#e2474c" stroke="#e2474c" stroke-width="0.35">59.8%</text>
<text transform="translate(842.17 52.70) scale(1.065 1)" font-size="13.7" font-weight="normal" letter-spacing="0.000" fill="#8ccb5c" stroke="#8ccb5c" stroke-width="0.35">40.2%</text>
<text transform="translate(472.50 77.20) scale(1.012 1)" font-size="11.3" font-weight="normal" letter-spacing="0.000" fill="#777">Avg. Gain / Loss</text>
<text transform="translate(791.36 77.80) scale(0.999 1)" font-size="13.5" font-weight="normal" letter-spacing="0.000" fill="#222" stroke="#222" stroke-width="0.35">1.24% / -1.78%</text>
<text transform="translate(471.54 102.20) scale(1.062 1)" font-size="11.3" font-weight="normal" letter-spacing="0.000" fill="#777">Expected Value</text>
<text transform="translate(836.84 102.80) scale(1.094 1)" font-size="13.5" font-weight="normal" letter-spacing="0.000" fill="#222" stroke="#222" stroke-width="0.35">-0.57%</text>
<text transform="translate(12.34 165.00) scale(1.052 1)" font-size="15.3" font-weight="normal" letter-spacing="0.000" fill="#222" stroke="#222" stroke-width="0.35">Holder Concentration</text>
<text transform="translate(12.47 527.10) scale(1.032 1)" font-size="15.3" font-weight="normal" letter-spacing="-0.000" fill="#222" stroke="#222" stroke-width="0.35">Liquidation Map</text>
<text transform="translate(12.62 199.60) scale(0.962 1)" font-size="13" font-weight="normal" letter-spacing="0.000" fill="#222" stroke="#222" stroke-width="0.35">BTC</text>
<text transform="translate(12.99 221.80) scale(1.065 1)" font-size="10.5" font-weight="normal" letter-spacing="0.000" fill="#777">Price</text>
<text transform="translate(45.57 221.80) scale(1.064 1)" font-size="10.5" font-weight="normal" letter-spacing="0.000" fill="#222" stroke="#222" stroke-width="0.2">77,710.8</text>
<text transform="translate(96.00 221.80) scale(1.084 1)" font-size="10.5" font-weight="normal" letter-spacing="0.000" fill="#222" stroke="#222" stroke-width="0.2"><tspan fill="#222" stroke="#222">(</tspan><tspan fill="#8ccb5c" stroke="#8ccb5c">+251.6</tspan><tspan fill="#222" stroke="#222">)</tspan></text>
<text transform="translate(157.00 221.80) scale(1.035 1)" font-size="10.5" font-weight="normal" letter-spacing="0.000" fill="#777">Alpha</text>
<text transform="translate(193.50 221.80) scale(1.120 1)" font-size="10.5" font-weight="normal" letter-spacing="0.081" fill="#222" stroke="#222" stroke-width="0.2">-0.816</text>
<text transform="translate(234.57 221.80) scale(1.120 1)" font-size="10.5" font-weight="normal" letter-spacing="0.615" fill="#222" stroke="#222" stroke-width="0.2"><tspan fill="#222" stroke="#222">(</tspan><tspan fill="#8ccb5c" stroke="#8ccb5c">+0.004</tspan><tspan fill="#222" stroke="#222">)</tspan></text>
<text transform="translate(13.35 242.70) scale(1.105 1)" font-size="10.5" font-weight="normal" letter-spacing="0.000" fill="#777">24h Prediction</text>
<text transform="translate(94.68 242.70) scale(1.120 1)" font-size="10.5" font-weight="normal" letter-spacing="0.169" fill="#e2474c" stroke="#e2474c" stroke-width="0.2">48.9%</text>
<text transform="translate(229.80 242.70) scale(0.992 1)" font-size="10.5" font-weight="normal" letter-spacing="0.000" fill="#8ccb5c" stroke="#8ccb5c" stroke-width="0.2">51.1%</text>
<text transform="translate(471.65 199.60) scale(0.936 1)" font-size="13" font-weight="normal" letter-spacing="0.000" fill="#222" stroke="#222" stroke-width="0.35">ETH</text>
<text transform="translate(471.79 221.80) scale(1.065 1)" font-size="10.5" font-weight="normal" letter-spacing="0.000" fill="#777">Price</text>
<text transform="translate(504.87 221.80) scale(1.061 1)" font-size="10.5" font-weight="normal" letter-spacing="0.000" fill="#222" stroke="#222" stroke-width="0.2">2,317.82</text>
<text transform="translate(555.28 221.80) scale(1.102 1)" font-size="10.5" font-weight="normal" letter-spacing="0.000" fill="#222" stroke="#222" stroke-width="0.2"><tspan fill="#222" stroke="#222">(</tspan><tspan fill="#8ccb5c" stroke="#8ccb5c">+15.02</tspan><tspan fill="#222" stroke="#222">)</tspan></text>
<text transform="translate(617.10 221.80) scale(1.046 1)" font-size="10.5" font-weight="normal" letter-spacing="-0.000" fill="#777">Alpha</text>
<text transform="translate(653.20 221.80) scale(1.120 1)" font-size="10.5" font-weight="normal" letter-spacing="0.259" fill="#222" stroke="#222" stroke-width="0.2">-0.415</text>
<text transform="translate(695.07 221.80) scale(1.120 1)" font-size="10.5" font-weight="normal" letter-spacing="0.449" fill="#222" stroke="#222" stroke-width="0.2"><tspan fill="#222" stroke="#222">(</tspan><tspan fill="#e2474c" stroke="#e2474c">-0.01</tspan><tspan fill="#222" stroke="#222">)</tspan></text>
<text transform="translate(472.15 242.70) scale(1.105 1)" font-size="10.5" font-weight="normal" letter-spacing="0.000" fill="#777">24h Prediction</text>
<text transform="translate(553.48 242.70) scale(1.118 1)" font-size="10.5" font-weight="normal" letter-spacing="0.000" fill="#e2474c" stroke="#e2474c" stroke-width="0.2">47.2%</text>
<text transform="translate(687.55 242.70) scale(1.120 1)" font-size="10.5" font-weight="normal" letter-spacing="0.219" fill="#8ccb5c" stroke="#8ccb5c" stroke-width="0.2">52.8%</text>
<text transform="translate(12.73 561.40) scale(0.973 1)" font-size="12.6" font-weight="normal" letter-spacing="0.000" fill="#222" stroke="#222" stroke-width="0.35">BTC</text>
<text transform="translate(471.61 561.40) scale(0.987 1)" font-size="12.6" font-weight="normal" letter-spacing="0.000" fill="#222" stroke="#222" stroke-width="0.35">ETH</text></svg>
</div></body></html>
